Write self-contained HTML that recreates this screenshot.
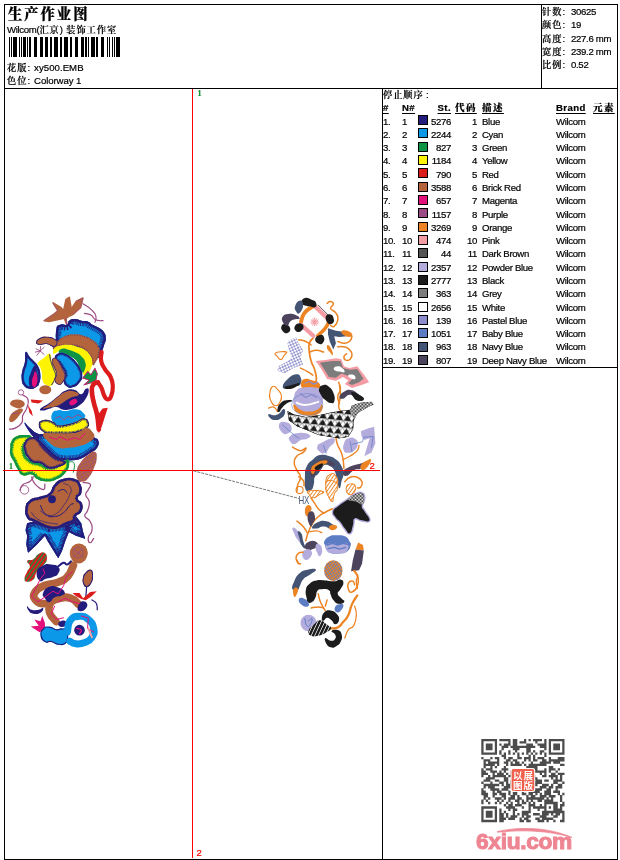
<!DOCTYPE html><html lang="zh"><head><meta charset="utf-8"><title>生产作业图</title><style>
html,body{margin:0;padding:0;background:#fff;}
body{-webkit-text-stroke-width:0.2px;width:620px;height:860px;position:relative;overflow:hidden;font-family:"Liberation Sans","Noto Serif CJK SC",sans-serif;font-size:9.6px;letter-spacing:-0.32px;color:#000;}
.t{position:absolute;white-space:nowrap;line-height:11px;height:11px;}
.c{font-family:"Liberation Sans","Noto Serif CJK SC","Noto Sans CJK SC",serif;font-size:9.2px;letter-spacing:1px;font-weight:600;}
.title{position:absolute;left:8px;top:4.7px;font-family:"Liberation Serif","Noto Serif CJK SC","Noto Sans CJK SC",serif;font-weight:900;font-size:14.4px;line-height:18px;letter-spacing:1.9px;white-space:nowrap;}
.h{font-weight:bold;text-decoration:underline;text-underline-offset:2px;text-decoration-thickness:1px;letter-spacing:0.4px;}
.h .c{font-size:9.5px;letter-spacing:1.4px;font-weight:900;}
.r{text-align:right;}
svg{position:absolute;left:0;top:0;}
.sw{position:absolute;width:8px;height:8px;border:1px solid #000;}
</style></head><body>
<svg width="620" height="860" viewBox="0 0 620 860" shape-rendering="crispEdges">
<g fill="#000">
<rect x="4" y="4" width="614" height="1"/>
<rect x="4" y="4" width="1" height="856"/>
<rect x="617" y="4" width="1" height="856"/>
<rect x="4" y="859" width="614" height="1"/>
<rect x="4" y="88" width="614" height="1"/>
<rect x="541" y="4" width="1" height="84"/>
<rect x="382" y="88" width="1" height="772"/>
<rect x="382" y="367" width="236" height="1"/>
<rect x="9" y="37" width="1" height="20"/>
<rect x="11" y="37" width="1" height="20"/>
<rect x="13" y="37" width="4" height="20"/>
<rect x="19" y="37" width="1" height="20"/>
<rect x="21" y="37" width="1" height="20"/>
<rect x="23" y="37" width="3" height="20"/>
<rect x="27" y="37" width="1" height="20"/>
<rect x="29" y="37" width="2" height="20"/>
<rect x="34" y="37" width="3" height="20"/>
<rect x="40" y="37" width="3" height="20"/>
<rect x="45" y="37" width="3" height="20"/>
<rect x="50" y="37" width="2" height="20"/>
<rect x="54" y="37" width="4" height="20"/>
<rect x="60" y="37" width="2" height="20"/>
<rect x="64" y="37" width="4" height="20"/>
<rect x="70" y="37" width="2" height="20"/>
<rect x="75" y="37" width="3" height="20"/>
<rect x="81" y="37" width="3" height="20"/>
<rect x="85" y="37" width="2" height="20"/>
<rect x="88" y="37" width="1" height="20"/>
<rect x="91" y="37" width="4" height="20"/>
<rect x="96" y="37" width="2" height="20"/>
<rect x="101" y="37" width="3" height="20"/>
<rect x="107" y="37" width="1" height="20"/>
<rect x="109" y="37" width="1" height="20"/>
<rect x="112" y="37" width="1" height="20"/>
<rect x="114" y="37" width="1" height="20"/>
<rect x="116" y="37" width="4" height="20"/>
</g>
</svg>
<svg width="620" height="860" viewBox="0 0 620 860">
<defs>
<pattern id="xh" width="22" height="22" patternUnits="userSpaceOnUse" patternTransform="rotate(20)"><rect width="22" height="22" fill="#fff"/><path d="M0,0L22,22M22,0L0,22" stroke="#8c8ccc" stroke-width="5"/></pattern>
<pattern id="tri" width="46" height="38" patternUnits="userSpaceOnUse" patternTransform="rotate(6)"><rect width="46" height="38" fill="#fff"/><path d="M2,38L23,6L44,38Z" fill="#1c1c1c"/><path d="M0,1L46,1M0,0L23,38M46,0L23,38" stroke="#1c1c1c" stroke-width="2.5" fill="none"/></pattern>
<pattern id="dots" width="8" height="8" patternUnits="userSpaceOnUse"><rect width="8" height="8" fill="#fff"/><rect width="4" height="4" fill="#1c1c1c"/><rect x="4" y="4" width="4" height="4" fill="#1c1c1c"/></pattern>
<pattern id="pine" width="20" height="20" patternUnits="userSpaceOnUse" patternTransform="rotate(15)"><rect width="20" height="20" fill="#ec8424"/><path d="M0,0L20,20M20,0L0,20" stroke="#5c7cc4" stroke-width="4"/></pattern>
<pattern id="cone" width="24" height="24" patternUnits="userSpaceOnUse" patternTransform="rotate(25)"><rect width="24" height="24" fill="#b4643c"/><path d="M0,0L24,24M24,0L0,24" stroke="#9c4c84" stroke-width="4"/></pattern>
<pattern id="rg" width="20" height="20" patternUnits="userSpaceOnUse" patternTransform="rotate(-55)"><rect width="20" height="20" fill="#dc1c1c"/><rect width="20" height="7" fill="#0c9444"/></pattern>
<pattern id="oh" width="16" height="16" patternUnits="userSpaceOnUse" patternTransform="rotate(-55)"><rect width="16" height="16" fill="#fff"/><rect width="16" height="5" fill="#ec8424"/></pattern>
<pattern id="bs" width="18" height="18" patternUnits="userSpaceOnUse" patternTransform="rotate(-65)"><rect width="18" height="18" fill="#1c1c1c"/><rect width="18" height="4" fill="#fff"/></pattern>
</defs>
<path d="M193.5,470.8 L299,498.5" stroke="#555" stroke-width="0.8" stroke-dasharray="3 1" fill="none"/>
<text x="298.5" y="503.7" font-family="'Liberation Sans',sans-serif" font-size="10.8" fill="#445474" textLength="10.5" lengthAdjust="spacingAndGlyphs">HX</text>
<g transform="translate(20,290) scale(0.16129)">
<path d="M390,85 C403.3,94.3 418.7,100.0 440,120 C461.3,140.0 463.3,138.7 470,160 C476.7,181.3 466.3,189.3 465,200" fill="none" stroke="#9c4c84" stroke-width="7" stroke-linecap="round" stroke-linejoin="round" />
<path d="M400,145 C410.7,147.7 421.3,144.3 440,155 C458.7,165.7 450.0,175.7 470,185 C490.0,194.3 503.0,188.7 515,190" fill="none" stroke="#9c4c84" stroke-width="7" stroke-linecap="round" stroke-linejoin="round" />
<path d="M150,190 L210,150 L235,130 L205,80 L255,110 L270,130 L285,60 L305,45 L315,100 L310,130 L350,70 L390,50 L375,110 L330,150 L300,165 L285,175 L290,215 L275,175 L230,185 L180,195Z" fill="#b4643c" />
<path d="M150,190 L210,150 L235,130 L205,80 L255,110 L270,130 L285,60 L305,45 L315,100 L310,130 L350,70 L390,50 L375,110 L330,150 L300,165 L285,175 L290,215 L275,175 L230,185 L180,195 L150,190" fill="none" stroke="#b4643c" stroke-width="9.8" stroke-linecap="round" stroke-linejoin="round" />
<path d="M150,190 L210,150 L235,130 L205,80" fill="none" stroke="#9c4c84" stroke-width="4.2" stroke-linecap="round" stroke-linejoin="round" />
<path d="M285,175 L290,215" fill="none" stroke="#9c4c84" stroke-width="5.6" stroke-linecap="round" stroke-linejoin="round" />
<path d="M350,70 L390,50 L375,110 L330,150" fill="none" stroke="#9c4c84" stroke-width="4.2" stroke-linecap="round" stroke-linejoin="round" />
<path d="M235,330 C215.0,304.7 221.0,275.7 225,245 C229.0,214.3 232.7,223.0 250,215 C267.3,207.0 275.3,221.7 290,215 C304.7,208.3 291.7,199.3 305,190 C318.3,180.7 320.0,180.0 340,180 C360.0,180.0 358.7,186.0 380,190 C401.3,194.0 401.3,188.3 420,195 C438.7,201.7 431.3,204.3 450,215 C468.7,225.7 471.3,223.0 490,235 C508.7,247.0 508.8,242.7 520,260 C531.2,277.3 531.5,278.7 532,300 C532.5,321.3 529.2,317.3 522,340 C514.8,362.7 516.2,363.7 505,385 C493.8,406.3 508.0,421.3 480,420 C452.0,418.7 448.0,401.3 400,380 C352.0,358.7 344.0,353.3 300,340 C256.0,326.7 255.0,355.3 235,330Z" fill="#0c98e8" />
<clipPath id="c1"><path d="M235,330 C215.0,304.7 221.0,275.7 225,245 C229.0,214.3 232.7,223.0 250,215 C267.3,207.0 275.3,221.7 290,215 C304.7,208.3 291.7,199.3 305,190 C318.3,180.7 320.0,180.0 340,180 C360.0,180.0 358.7,186.0 380,190 C401.3,194.0 401.3,188.3 420,195 C438.7,201.7 431.3,204.3 450,215 C468.7,225.7 471.3,223.0 490,235 C508.7,247.0 508.8,242.7 520,260 C531.2,277.3 531.5,278.7 532,300 C532.5,321.3 529.2,317.3 522,340 C514.8,362.7 516.2,363.7 505,385 C493.8,406.3 508.0,421.3 480,420 C452.0,418.7 448.0,401.3 400,380 C352.0,358.7 344.0,353.3 300,340 C256.0,326.7 255.0,355.3 235,330Z"/></clipPath>
<path d="M235,330 C215.0,304.7 221.0,275.7 225,245 C229.0,214.3 232.7,223.0 250,215 C267.3,207.0 275.3,221.7 290,215 C304.7,208.3 291.7,199.3 305,190 C318.3,180.7 320.0,180.0 340,180 C360.0,180.0 358.7,186.0 380,190 C401.3,194.0 401.3,188.3 420,195 C438.7,201.7 431.3,204.3 450,215 C468.7,225.7 471.3,223.0 490,235 C508.7,247.0 508.8,242.7 520,260 C531.2,277.3 531.5,278.7 532,300 C532.5,321.3 529.2,317.3 522,340 C514.8,362.7 516.2,363.7 505,385 C493.8,406.3 508.0,421.3 480,420 C452.0,418.7 448.0,401.3 400,380 C352.0,358.7 344.0,353.3 300,340 C256.0,326.7 255.0,355.3 235,330Z" fill="none" stroke="#241c7c" stroke-width="68" stroke-dasharray="4 4" clip-path="url(#c1)"/>
<path d="M235,330 C215.0,304.7 221.0,275.7 225,245 C229.0,214.3 232.7,223.0 250,215 C267.3,207.0 275.3,221.7 290,215 C304.7,208.3 291.7,199.3 305,190 C318.3,180.7 320.0,180.0 340,180 C360.0,180.0 358.7,186.0 380,190 C401.3,194.0 401.3,188.3 420,195 C438.7,201.7 431.3,204.3 450,215 C468.7,225.7 471.3,223.0 490,235 C508.7,247.0 508.8,242.7 520,260 C531.2,277.3 531.5,278.7 532,300 C532.5,321.3 529.2,317.3 522,340 C514.8,362.7 516.2,363.7 505,385 C493.8,406.3 508.0,421.3 480,420 C452.0,418.7 448.0,401.3 400,380 C352.0,358.7 344.0,353.3 300,340 C256.0,326.7 255.0,355.3 235,330Z" fill="none" stroke="#241c7c" stroke-width="30" stroke-linejoin="round" clip-path="url(#c1)"/>
<path d="M235,315 C252.3,300.3 244.7,300.7 270,290 C295.3,279.3 295.3,276.3 330,275 C364.7,273.7 368.0,275.7 400,285 C432.0,294.3 427.3,294.0 450,310 C472.7,326.0 473.8,322.3 485,345 C496.2,367.7 496.0,368.3 492,395 C488.0,421.7 481.2,426.3 470,445 C458.8,463.7 458.0,471.7 450,465 C442.0,458.3 453.3,445.3 440,420 C426.7,394.7 426.7,390.0 400,370 C373.3,350.0 372.0,351.7 340,345 C308.0,338.3 306.7,343.7 280,345 C253.3,346.3 257.3,342.8 240,350 C222.7,357.2 224.3,373.3 215,372 C205.7,370.7 199.7,360.2 205,345 C210.3,329.8 217.7,329.7 235,315Z" fill="#b4643c" />
<clipPath id="c2"><path d="M235,315 C252.3,300.3 244.7,300.7 270,290 C295.3,279.3 295.3,276.3 330,275 C364.7,273.7 368.0,275.7 400,285 C432.0,294.3 427.3,294.0 450,310 C472.7,326.0 473.8,322.3 485,345 C496.2,367.7 496.0,368.3 492,395 C488.0,421.7 481.2,426.3 470,445 C458.8,463.7 458.0,471.7 450,465 C442.0,458.3 453.3,445.3 440,420 C426.7,394.7 426.7,390.0 400,370 C373.3,350.0 372.0,351.7 340,345 C308.0,338.3 306.7,343.7 280,345 C253.3,346.3 257.3,342.8 240,350 C222.7,357.2 224.3,373.3 215,372 C205.7,370.7 199.7,360.2 205,345 C210.3,329.8 217.7,329.7 235,315Z"/></clipPath>
<path d="M235,315 C252.3,300.3 244.7,300.7 270,290 C295.3,279.3 295.3,276.3 330,275 C364.7,273.7 368.0,275.7 400,285 C432.0,294.3 427.3,294.0 450,310 C472.7,326.0 473.8,322.3 485,345 C496.2,367.7 496.0,368.3 492,395 C488.0,421.7 481.2,426.3 470,445 C458.8,463.7 458.0,471.7 450,465 C442.0,458.3 453.3,445.3 440,420 C426.7,394.7 426.7,390.0 400,370 C373.3,350.0 372.0,351.7 340,345 C308.0,338.3 306.7,343.7 280,345 C253.3,346.3 257.3,342.8 240,350 C222.7,357.2 224.3,373.3 215,372 C205.7,370.7 199.7,360.2 205,345 C210.3,329.8 217.7,329.7 235,315Z" fill="none" stroke="#241c7c" stroke-width="18" stroke-dasharray="2 9" clip-path="url(#c2)"/>
<path d="M100,322 C102.7,310.0 111.3,303.5 130,295 C148.7,286.5 148.7,288.7 170,290 C191.3,291.3 193.5,291.5 210,300 C226.5,308.5 230.7,308.1 232,322 C233.3,335.9 226.2,345.9 215,352 C203.8,358.1 204.7,349.5 190,345 C175.3,340.5 178.7,336.3 160,335 C141.3,333.7 136.0,343.5 120,340 C104.0,336.5 97.3,334.0 100,322Z" fill="#b4643c" />
<clipPath id="c3"><path d="M100,322 C102.7,310.0 111.3,303.5 130,295 C148.7,286.5 148.7,288.7 170,290 C191.3,291.3 193.5,291.5 210,300 C226.5,308.5 230.7,308.1 232,322 C233.3,335.9 226.2,345.9 215,352 C203.8,358.1 204.7,349.5 190,345 C175.3,340.5 178.7,336.3 160,335 C141.3,333.7 136.0,343.5 120,340 C104.0,336.5 97.3,334.0 100,322Z"/></clipPath>
<path d="M100,322 C102.7,310.0 111.3,303.5 130,295 C148.7,286.5 148.7,288.7 170,290 C191.3,291.3 193.5,291.5 210,300 C226.5,308.5 230.7,308.1 232,322 C233.3,335.9 226.2,345.9 215,352 C203.8,358.1 204.7,349.5 190,345 C175.3,340.5 178.7,336.3 160,335 C141.3,333.7 136.0,343.5 120,340 C104.0,336.5 97.3,334.0 100,322Z" fill="none" stroke="#241c7c" stroke-width="10" stroke-linejoin="round" clip-path="url(#c3)"/>
<path d="M205,392 C203.7,383.5 203.0,372.5 215,360 C227.0,347.5 227.3,350.3 250,345 C272.7,339.7 273.3,338.7 300,340 C326.7,341.3 323.3,342.0 350,350 C376.7,358.0 378.7,356.7 400,370 C421.3,383.3 417.5,381.3 430,400 C442.5,418.7 444.3,417.3 447,440 C449.7,462.7 449.9,462.3 440,485 C430.1,507.7 423.9,517.8 410,525 C396.1,532.2 390.7,526.7 388,512 C385.3,497.3 402.1,491.9 400,470 C397.9,448.1 396.0,448.7 380,430 C364.0,411.3 364.0,413.3 340,400 C316.0,386.7 314.0,386.7 290,380 C266.0,373.3 268.7,371.8 250,375 C231.3,378.2 232.0,387.5 220,392 C208.0,396.5 206.3,400.5 205,392Z" fill="#fcf404" />
<path d="M240,387 C237.3,379.0 244.0,369.5 260,365 C276.0,360.5 278.7,364.7 300,370 C321.3,375.3 318.7,374.3 340,385 C361.3,395.7 362.7,392.7 380,410 C397.3,427.3 399.1,428.1 405,450 C410.9,471.9 407.3,475.5 402,492 C396.7,508.5 394.1,515.2 385,512 C375.9,508.8 377.3,499.2 368,480 C358.7,460.8 365.5,458.7 350,440 C334.5,421.3 331.3,422.0 310,410 C288.7,398.0 288.7,401.1 270,395 C251.3,388.9 242.7,395.0 240,387Z" fill="#0c9444" />
<path d="M215,422 C215.0,406.5 222.7,399.2 240,392 C257.3,384.8 258.7,387.5 280,395 C301.3,402.5 301.3,405.3 320,420 C338.7,434.7 335.3,431.3 350,450 C364.7,468.7 365.4,468.1 375,490 C384.6,511.9 387.3,510.1 386,532 C384.7,553.9 384.9,553.3 370,572 C355.1,590.7 351.3,595.3 330,602 C308.7,608.7 306.0,608.2 290,597 C274.0,585.8 272.7,580.5 270,560 C267.3,539.5 282.7,541.3 280,520 C277.3,498.7 270.7,498.7 260,480 C249.3,461.3 252.0,465.5 240,450 C228.0,434.5 215.0,437.5 215,422Z" fill="#0c98e8" />
<clipPath id="c4"><path d="M215,422 C215.0,406.5 222.7,399.2 240,392 C257.3,384.8 258.7,387.5 280,395 C301.3,402.5 301.3,405.3 320,420 C338.7,434.7 335.3,431.3 350,450 C364.7,468.7 365.4,468.1 375,490 C384.6,511.9 387.3,510.1 386,532 C384.7,553.9 384.9,553.3 370,572 C355.1,590.7 351.3,595.3 330,602 C308.7,608.7 306.0,608.2 290,597 C274.0,585.8 272.7,580.5 270,560 C267.3,539.5 282.7,541.3 280,520 C277.3,498.7 270.7,498.7 260,480 C249.3,461.3 252.0,465.5 240,450 C228.0,434.5 215.0,437.5 215,422Z"/></clipPath>
<path d="M215,422 C215.0,406.5 222.7,399.2 240,392 C257.3,384.8 258.7,387.5 280,395 C301.3,402.5 301.3,405.3 320,420 C338.7,434.7 335.3,431.3 350,450 C364.7,468.7 365.4,468.1 375,490 C384.6,511.9 387.3,510.1 386,532 C384.7,553.9 384.9,553.3 370,572 C355.1,590.7 351.3,595.3 330,602 C308.7,608.7 306.0,608.2 290,597 C274.0,585.8 272.7,580.5 270,560 C267.3,539.5 282.7,541.3 280,520 C277.3,498.7 270.7,498.7 260,480 C249.3,461.3 252.0,465.5 240,450 C228.0,434.5 215.0,437.5 215,422Z" fill="none" stroke="#241c7c" stroke-width="32" stroke-dasharray="4 4" clip-path="url(#c4)"/>
<path d="M215,422 C215.0,406.5 222.7,399.2 240,392 C257.3,384.8 258.7,387.5 280,395 C301.3,402.5 301.3,405.3 320,420 C338.7,434.7 335.3,431.3 350,450 C364.7,468.7 365.4,468.1 375,490 C384.6,511.9 387.3,510.1 386,532 C384.7,553.9 384.9,553.3 370,572 C355.1,590.7 351.3,595.3 330,602 C308.7,608.7 306.0,608.2 290,597 C274.0,585.8 272.7,580.5 270,560 C267.3,539.5 282.7,541.3 280,520 C277.3,498.7 270.7,498.7 260,480 C249.3,461.3 252.0,465.5 240,450 C228.0,434.5 215.0,437.5 215,422Z" fill="none" stroke="#241c7c" stroke-width="20" stroke-linejoin="round" clip-path="url(#c4)"/>
<path d="M110,452 C118.0,438.7 130.0,435.2 150,420 C170.0,404.8 172.5,389.7 185,395 C197.5,400.3 189.8,417.3 197,440 C204.2,462.7 204.3,458.7 212,480 C219.7,501.3 224.9,498.7 226,520 C227.1,541.3 224.3,540.8 216,560 C207.7,579.2 209.9,584.8 195,592 C180.1,599.2 174.7,595.5 160,587 C145.3,578.5 146.7,580.5 140,560 C133.3,539.5 140.3,534.0 135,510 C129.7,486.0 126.7,485.5 120,470 C113.3,454.5 102.0,465.3 110,452Z" fill="#fcf404" />
<path d="M183,400 C185.4,412.0 185.9,422.3 192,445 C198.1,467.7 198.5,463.7 206,485 C213.5,506.3 218.4,505.0 220,525 C221.6,545.0 218.4,543.2 212,560 C205.6,576.8 200.3,580.5 196,588" fill="none" stroke="#241c7c" stroke-width="5.6" stroke-linecap="round" stroke-linejoin="round" stroke-dasharray="3 4"/>
<path d="M197,442 C198.6,426.0 204.2,417.9 217,420 C229.8,422.1 232.2,431.3 245,450 C257.8,468.7 255.4,468.7 265,490 C274.6,511.3 280.7,508.1 281,530 C281.3,551.9 276.9,556.8 266,572 C255.1,587.2 253.9,590.2 240,587 C226.1,583.8 217.7,577.9 214,560 C210.3,542.1 226.8,541.3 226,520 C225.2,498.7 218.7,500.8 211,480 C203.3,459.2 195.4,458.0 197,442Z" fill="#b4643c" />
<clipPath id="c5"><path d="M197,442 C198.6,426.0 204.2,417.9 217,420 C229.8,422.1 232.2,431.3 245,450 C257.8,468.7 255.4,468.7 265,490 C274.6,511.3 280.7,508.1 281,530 C281.3,551.9 276.9,556.8 266,572 C255.1,587.2 253.9,590.2 240,587 C226.1,583.8 217.7,577.9 214,560 C210.3,542.1 226.8,541.3 226,520 C225.2,498.7 218.7,500.8 211,480 C203.3,459.2 195.4,458.0 197,442Z"/></clipPath>
<path d="M197,442 C198.6,426.0 204.2,417.9 217,420 C229.8,422.1 232.2,431.3 245,450 C257.8,468.7 255.4,468.7 265,490 C274.6,511.3 280.7,508.1 281,530 C281.3,551.9 276.9,556.8 266,572 C255.1,587.2 253.9,590.2 240,587 C226.1,583.8 217.7,577.9 214,560 C210.3,542.1 226.8,541.3 226,520 C225.2,498.7 218.7,500.8 211,480 C203.3,459.2 195.4,458.0 197,442Z" fill="none" stroke="#241c7c" stroke-width="8" stroke-linejoin="round" clip-path="url(#c5)"/>
<path d="M35,385 C43.0,375.7 46.7,400.3 60,415 C73.3,429.7 71.7,425.3 85,440 C98.3,454.7 99.1,448.7 110,470 C120.9,491.3 123.1,493.3 126,520 C128.9,546.7 127.9,548.1 121,570 C114.1,591.9 116.3,590.8 100,602 C83.7,613.2 80.0,614.7 60,612 C40.0,609.3 38.3,608.5 25,592 C11.7,575.5 12.7,574.5 10,550 C7.3,525.5 9.7,526.7 15,500 C20.3,473.3 24.7,480.7 30,450 C35.3,419.3 27.0,394.3 35,385Z" fill="#0c98e8" />
<clipPath id="c6"><path d="M35,385 C43.0,375.7 46.7,400.3 60,415 C73.3,429.7 71.7,425.3 85,440 C98.3,454.7 99.1,448.7 110,470 C120.9,491.3 123.1,493.3 126,520 C128.9,546.7 127.9,548.1 121,570 C114.1,591.9 116.3,590.8 100,602 C83.7,613.2 80.0,614.7 60,612 C40.0,609.3 38.3,608.5 25,592 C11.7,575.5 12.7,574.5 10,550 C7.3,525.5 9.7,526.7 15,500 C20.3,473.3 24.7,480.7 30,450 C35.3,419.3 27.0,394.3 35,385Z"/></clipPath>
<path d="M35,385 C43.0,375.7 46.7,400.3 60,415 C73.3,429.7 71.7,425.3 85,440 C98.3,454.7 99.1,448.7 110,470 C120.9,491.3 123.1,493.3 126,520 C128.9,546.7 127.9,548.1 121,570 C114.1,591.9 116.3,590.8 100,602 C83.7,613.2 80.0,614.7 60,612 C40.0,609.3 38.3,608.5 25,592 C11.7,575.5 12.7,574.5 10,550 C7.3,525.5 9.7,526.7 15,500 C20.3,473.3 24.7,480.7 30,450 C35.3,419.3 27.0,394.3 35,385Z" fill="none" stroke="#241c7c" stroke-width="30" stroke-dasharray="4 4" clip-path="url(#c6)"/>
<path d="M35,385 C43.0,375.7 46.7,400.3 60,415 C73.3,429.7 71.7,425.3 85,440 C98.3,454.7 99.1,448.7 110,470 C120.9,491.3 123.1,493.3 126,520 C128.9,546.7 127.9,548.1 121,570 C114.1,591.9 116.3,590.8 100,602 C83.7,613.2 80.0,614.7 60,612 C40.0,609.3 38.3,608.5 25,592 C11.7,575.5 12.7,574.5 10,550 C7.3,525.5 9.7,526.7 15,500 C20.3,473.3 24.7,480.7 30,450 C35.3,419.3 27.0,394.3 35,385Z" fill="none" stroke="#241c7c" stroke-width="26" stroke-linejoin="round" clip-path="url(#c6)"/>
<path d="M90,470 C100.7,464.7 99.4,476.0 105,500 C110.6,524.0 113.7,534.1 111,560 C108.3,585.9 107.3,585.8 95,597 C82.7,608.2 75.7,611.9 65,602 C54.3,592.1 55.0,581.9 55,560 C55.0,538.1 55.7,544.0 65,520 C74.3,496.0 79.3,475.3 90,470Z" fill="#241c7c" />
<path d="M95,505 C101.1,509.5 106.7,521.8 108,545 C109.3,568.2 107.5,578.1 100,592 C92.5,605.9 86.7,605.5 80,597 C73.3,588.5 73.7,578.4 75,560 C76.3,541.6 79.7,542.7 85,528 C90.3,513.3 88.9,500.5 95,505Z" fill="#e4107c" />
<path d="M125,378 L100,365" fill="none" stroke="#9c4c84" stroke-width="5.6" stroke-linecap="round" stroke-linejoin="round" />
<path d="M125,378 L150,355" fill="none" stroke="#9c4c84" stroke-width="5.6" stroke-linecap="round" stroke-linejoin="round" />
<path d="M125,378 L105,405" fill="none" stroke="#9c4c84" stroke-width="5.6" stroke-linecap="round" stroke-linejoin="round" />
<path d="M125,378 L150,400" fill="none" stroke="#9c4c84" stroke-width="5.6" stroke-linecap="round" stroke-linejoin="round" />
<path d="M125,378 L128,350" fill="none" stroke="#9c4c84" stroke-width="5.6" stroke-linecap="round" stroke-linejoin="round" />
<path d="M125,378 L95,385" fill="none" stroke="#9c4c84" stroke-width="5.6" stroke-linecap="round" stroke-linejoin="round" />
<path d="M385,547 L420,502 L440,522 L465,480 L482,520 L472,562 L430,582 L390,592 L425,560Z" fill="#0c9444" />
<clipPath id="c7"><path d="M385,547 L420,502 L440,522 L465,480 L482,520 L472,562 L430,582 L390,592 L425,560Z"/></clipPath>
<path d="M385,547 L420,502 L440,522 L465,480 L482,520 L472,562 L430,582 L390,592 L425,560Z" fill="none" stroke="#e4107c" stroke-width="10" stroke-linejoin="round" clip-path="url(#c7)"/>
</g>
<g transform="translate(70,340) scale(0.11628)">
<path d="M272,105 C270.9,125.0 260.5,141.3 268,180 C275.5,218.7 278.1,212.7 300,250 C321.9,287.3 331.9,280.0 350,320 C368.1,360.0 366.7,357.3 368,400 C369.3,442.7 366.5,450.7 355,480 C343.5,509.3 341.0,510.0 325,510 C309.0,510.0 309.7,506.7 295,480 C280.3,453.3 284.7,440.7 270,410 C255.3,379.3 248.0,377.0 240,365" fill="none" stroke="#dc1c1c" stroke-width="36" stroke-linecap="round" stroke-linejoin="round" />
<path d="M240,365 C229.9,369.5 215.9,362.0 202,382 C188.1,402.0 187.2,397.9 188,440 C188.8,482.1 193.3,486.7 205,540 C216.7,593.3 220.5,578.7 232,640 C243.5,701.3 243.7,735.3 248,770" fill="none" stroke="#dc1c1c" stroke-width="40" stroke-linecap="round" stroke-linejoin="round" />
<path d="M248,805 L232,700 L250,630 L280,590 L325,583 L300,660 L275,740Z" fill="#dc1c1c" />
</g>
<g transform="translate(5,380) scale(0.17742)">
<ellipse cx="227" cy="55" rx="34" ry="26" fill="#b4643c" />
<ellipse cx="90" cy="70" rx="15" ry="15" fill="none" stroke="#9c4c84" stroke-width="5" />
<path d="M100,85 C108.0,91.7 124.1,90.0 130,110 C135.9,130.0 130.0,136.0 122,160 C114.0,184.0 107.2,178.7 100,200 C92.8,221.3 105.7,221.3 95,240 C84.3,258.7 78.7,260.1 60,270 C41.3,279.9 34.3,275.1 25,277" fill="none" stroke="#9c4c84" stroke-width="7" stroke-linecap="round" stroke-linejoin="round" />
<path d="M30,127 C35.3,115.8 48.7,109.2 70,110 C91.3,110.8 104.7,117.5 110,130 C115.3,142.5 106.0,151.1 90,157 C74.0,162.9 66.0,160.0 50,152 C34.0,144.0 24.7,138.2 30,127Z" fill="#b4643c" />
<path d="M25,212 C30.3,194.7 40.0,184.5 60,172 C80.0,159.5 94.7,157.5 100,165 C105.3,172.5 96.0,180.8 80,200 C64.0,219.2 54.7,233.8 40,237 C25.3,240.2 19.7,229.3 25,212Z" fill="#b4643c" />
<path d="M40,190 L75,185" fill="none" stroke="#9c4c84" stroke-width="5.6" stroke-linecap="round" stroke-linejoin="round" />
<path d="M145,110 L215,115 L190,132 L150,127Z" fill="#dc1c1c" />
<path d="M128,140 L150,175 L157,205 L138,185Z" fill="#dc1c1c" />
<path d="M200,162 C209.3,150.8 223.3,149.2 250,130 C276.7,110.8 276.0,108.7 300,90 C324.0,71.3 316.0,69.3 340,60 C364.0,50.7 366.0,49.7 390,55 C414.0,60.3 412.7,81.3 430,80 C447.3,78.7 443.8,55.3 455,50 C466.2,44.7 472.8,44.0 472,60 C471.2,76.0 465.9,88.1 452,110 C438.1,131.9 439.2,128.1 420,142 C400.8,155.9 404.0,155.3 380,162 C356.0,168.7 354.0,169.7 330,167 C306.0,164.3 311.3,153.3 290,152 C268.7,150.7 270.0,156.7 250,162 C230.0,167.3 228.3,172.0 215,172 C201.7,172.0 190.7,173.2 200,162Z" fill="#241c7c" />
<path d="M215,160 C216.3,153.9 232.3,149.3 255,132 C277.7,114.7 277.3,112.1 300,95 C322.7,77.9 317.3,76.3 340,68 C362.7,59.7 365.0,59.5 385,64 C405.0,68.5 419.0,75.4 415,85 C411.0,94.6 392.7,89.3 370,100 C347.3,110.7 350.0,113.0 330,125 C310.0,137.0 316.3,137.0 295,145 C273.7,153.0 271.3,151.0 250,155 C228.7,159.0 213.7,166.1 215,160Z" fill="#b4643c" />
<ellipse cx="385" cy="125" rx="24" ry="15" fill="#e4107c" transform="rotate(-30 385 125)"/>
<path d="M110,240 C112.7,237.3 121.3,254.0 140,270 C158.7,286.0 160.0,290.7 180,300 C200.0,309.3 183.0,305.0 215,305 C247.0,305.0 245.3,304.0 300,300 C354.7,296.0 374.7,296.7 420,290 C465.3,283.3 448.7,267.0 470,275 C491.3,283.0 485.3,302.7 500,320 C514.7,337.3 519.7,324.0 525,340 C530.3,356.0 532.0,360.8 520,380 C508.0,399.2 504.0,395.5 480,412 C456.0,428.5 456.7,431.3 430,442 C403.3,452.7 406.7,449.3 380,452 C353.3,454.7 354.0,454.7 330,452 C306.0,449.3 311.3,453.2 290,442 C268.7,430.8 271.3,429.2 250,410 C228.7,390.8 231.3,391.3 210,370 C188.7,348.7 191.3,354.0 170,330 C148.7,306.0 146.0,304.0 130,280 C114.0,256.0 107.3,242.7 110,240Z" fill="#0c98e8" />
<clipPath id="c8"><path d="M110,240 C112.7,237.3 121.3,254.0 140,270 C158.7,286.0 160.0,290.7 180,300 C200.0,309.3 183.0,305.0 215,305 C247.0,305.0 245.3,304.0 300,300 C354.7,296.0 374.7,296.7 420,290 C465.3,283.3 448.7,267.0 470,275 C491.3,283.0 485.3,302.7 500,320 C514.7,337.3 519.7,324.0 525,340 C530.3,356.0 532.0,360.8 520,380 C508.0,399.2 504.0,395.5 480,412 C456.0,428.5 456.7,431.3 430,442 C403.3,452.7 406.7,449.3 380,452 C353.3,454.7 354.0,454.7 330,452 C306.0,449.3 311.3,453.2 290,442 C268.7,430.8 271.3,429.2 250,410 C228.7,390.8 231.3,391.3 210,370 C188.7,348.7 191.3,354.0 170,330 C148.7,306.0 146.0,304.0 130,280 C114.0,256.0 107.3,242.7 110,240Z"/></clipPath>
<path d="M110,240 C112.7,237.3 121.3,254.0 140,270 C158.7,286.0 160.0,290.7 180,300 C200.0,309.3 183.0,305.0 215,305 C247.0,305.0 245.3,304.0 300,300 C354.7,296.0 374.7,296.7 420,290 C465.3,283.3 448.7,267.0 470,275 C491.3,283.0 485.3,302.7 500,320 C514.7,337.3 519.7,324.0 525,340 C530.3,356.0 532.0,360.8 520,380 C508.0,399.2 504.0,395.5 480,412 C456.0,428.5 456.7,431.3 430,442 C403.3,452.7 406.7,449.3 380,452 C353.3,454.7 354.0,454.7 330,452 C306.0,449.3 311.3,453.2 290,442 C268.7,430.8 271.3,429.2 250,410 C228.7,390.8 231.3,391.3 210,370 C188.7,348.7 191.3,354.0 170,330 C148.7,306.0 146.0,304.0 130,280 C114.0,256.0 107.3,242.7 110,240Z" fill="none" stroke="#241c7c" stroke-width="56" stroke-dasharray="4 4" clip-path="url(#c8)"/>
<path d="M110,240 C112.7,237.3 121.3,254.0 140,270 C158.7,286.0 160.0,290.7 180,300 C200.0,309.3 183.0,305.0 215,305 C247.0,305.0 245.3,304.0 300,300 C354.7,296.0 374.7,296.7 420,290 C465.3,283.3 448.7,267.0 470,275 C491.3,283.0 485.3,302.7 500,320 C514.7,337.3 519.7,324.0 525,340 C530.3,356.0 532.0,360.8 520,380 C508.0,399.2 504.0,395.5 480,412 C456.0,428.5 456.7,431.3 430,442 C403.3,452.7 406.7,449.3 380,452 C353.3,454.7 354.0,454.7 330,452 C306.0,449.3 311.3,453.2 290,442 C268.7,430.8 271.3,429.2 250,410 C228.7,390.8 231.3,391.3 210,370 C188.7,348.7 191.3,354.0 170,330 C148.7,306.0 146.0,304.0 130,280 C114.0,256.0 107.3,242.7 110,240Z" fill="none" stroke="#241c7c" stroke-width="26" stroke-linejoin="round" clip-path="url(#c8)"/>
<path d="M265,190 C273.0,172.1 280.0,174.0 300,170 C320.0,166.0 313.3,176.3 340,175 C366.7,173.7 373.3,162.3 400,165 C426.7,167.7 427.5,171.7 440,185 C452.5,198.3 457.7,201.1 447,215 C436.3,228.9 425.9,227.1 400,237 C374.1,246.9 376.7,246.7 350,252 C323.3,257.3 321.3,261.0 300,257 C278.7,253.0 279.3,254.9 270,237 C260.7,219.1 257.0,207.9 265,190Z" fill="#0c98e8" />
<path d="M285,215 L310,205 L330,225 L355,205 L380,215 L410,195 L430,205" fill="none" stroke="#9c4c84" stroke-width="5.6" stroke-linecap="round" stroke-linejoin="round" />
<path d="M190,250 C191.3,232.1 198.7,229.0 220,225 C241.3,221.0 248.7,227.0 270,235 C291.3,243.0 278.7,251.0 300,255 C321.3,259.0 323.3,255.3 350,250 C376.7,244.7 374.7,244.3 400,235 C425.3,225.7 425.8,213.7 445,215 C464.2,216.3 467.5,224.8 472,240 C476.5,255.2 475.9,258.1 462,272 C448.1,285.9 444.5,284.0 420,292 C395.5,300.0 399.3,299.3 370,302 C340.7,304.7 339.3,302.0 310,302 C280.7,302.0 285.3,304.7 260,302 C234.7,299.3 233.7,305.9 215,292 C196.3,278.1 188.7,267.9 190,250Z" fill="#fcf404" />
<clipPath id="c9"><path d="M190,250 C191.3,232.1 198.7,229.0 220,225 C241.3,221.0 248.7,227.0 270,235 C291.3,243.0 278.7,251.0 300,255 C321.3,259.0 323.3,255.3 350,250 C376.7,244.7 374.7,244.3 400,235 C425.3,225.7 425.8,213.7 445,215 C464.2,216.3 467.5,224.8 472,240 C476.5,255.2 475.9,258.1 462,272 C448.1,285.9 444.5,284.0 420,292 C395.5,300.0 399.3,299.3 370,302 C340.7,304.7 339.3,302.0 310,302 C280.7,302.0 285.3,304.7 260,302 C234.7,299.3 233.7,305.9 215,292 C196.3,278.1 188.7,267.9 190,250Z"/></clipPath>
<path d="M190,250 C191.3,232.1 198.7,229.0 220,225 C241.3,221.0 248.7,227.0 270,235 C291.3,243.0 278.7,251.0 300,255 C321.3,259.0 323.3,255.3 350,250 C376.7,244.7 374.7,244.3 400,235 C425.3,225.7 425.8,213.7 445,215 C464.2,216.3 467.5,224.8 472,240 C476.5,255.2 475.9,258.1 462,272 C448.1,285.9 444.5,284.0 420,292 C395.5,300.0 399.3,299.3 370,302 C340.7,304.7 339.3,302.0 310,302 C280.7,302.0 285.3,304.7 260,302 C234.7,299.3 233.7,305.9 215,292 C196.3,278.1 188.7,267.9 190,250Z" fill="none" stroke="#241c7c" stroke-width="26" stroke-dasharray="4 4" clip-path="url(#c9)"/>
<path d="M190,250 C191.3,232.1 198.7,229.0 220,225 C241.3,221.0 248.7,227.0 270,235 C291.3,243.0 278.7,251.0 300,255 C321.3,259.0 323.3,255.3 350,250 C376.7,244.7 374.7,244.3 400,235 C425.3,225.7 425.8,213.7 445,215 C464.2,216.3 467.5,224.8 472,240 C476.5,255.2 475.9,258.1 462,272 C448.1,285.9 444.5,284.0 420,292 C395.5,300.0 399.3,299.3 370,302 C340.7,304.7 339.3,302.0 310,302 C280.7,302.0 285.3,304.7 260,302 C234.7,299.3 233.7,305.9 215,292 C196.3,278.1 188.7,267.9 190,250Z" fill="none" stroke="#241c7c" stroke-width="12" stroke-linejoin="round" clip-path="url(#c9)"/>
<path d="M215,307 C217.7,293.1 218.7,301.9 260,300 C301.3,298.1 327.3,302.7 370,300 C412.7,297.3 396.0,298.0 420,290 C444.0,282.0 441.3,270.0 460,270 C478.7,270.0 478.8,276.1 490,290 C501.2,303.9 507.3,305.5 502,322 C496.7,338.5 491.9,338.7 470,352 C448.1,365.3 449.3,364.0 420,372 C390.7,380.0 392.0,379.3 360,382 C328.0,384.7 329.3,390.0 300,382 C270.7,374.0 272.7,372.0 250,352 C227.3,332.0 212.3,320.9 215,307Z" fill="#b4643c" />
<path d="M250,322 L290,335 L310,320 L350,340 L390,325 L420,335 L450,300" fill="none" stroke="#e4107c" stroke-width="5.6" stroke-linecap="round" stroke-linejoin="round" />
<path d="M35,350 C43.0,334.0 40.0,330.7 60,320 C80.0,309.3 86.0,309.5 110,310 C134.0,310.5 147.3,308.7 150,322 C152.7,335.3 130.7,339.2 120,360 C109.3,380.8 104.7,376.0 110,400 C115.3,424.0 116.0,431.3 140,450 C164.0,468.7 168.0,459.3 200,470 C232.0,480.7 222.7,494.8 260,490 C297.3,485.2 312.8,457.3 340,452 C367.2,446.7 361.5,451.9 362,470 C362.5,488.1 361.2,496.0 342,520 C322.8,544.0 319.9,546.1 290,560 C260.1,573.9 259.3,572.8 230,572 C200.7,571.2 201.3,567.7 180,557 C158.7,546.3 171.3,537.3 150,532 C128.7,526.7 121.3,545.5 100,537 C78.7,528.5 83.3,520.5 70,500 C56.7,479.5 60.7,481.3 50,460 C39.3,438.7 35.3,441.3 30,420 C24.7,398.7 28.7,398.7 30,380 C31.3,361.3 27.0,366.0 35,350Z" fill="#fcf404" />
<clipPath id="c10"><path d="M35,350 C43.0,334.0 40.0,330.7 60,320 C80.0,309.3 86.0,309.5 110,310 C134.0,310.5 147.3,308.7 150,322 C152.7,335.3 130.7,339.2 120,360 C109.3,380.8 104.7,376.0 110,400 C115.3,424.0 116.0,431.3 140,450 C164.0,468.7 168.0,459.3 200,470 C232.0,480.7 222.7,494.8 260,490 C297.3,485.2 312.8,457.3 340,452 C367.2,446.7 361.5,451.9 362,470 C362.5,488.1 361.2,496.0 342,520 C322.8,544.0 319.9,546.1 290,560 C260.1,573.9 259.3,572.8 230,572 C200.7,571.2 201.3,567.7 180,557 C158.7,546.3 171.3,537.3 150,532 C128.7,526.7 121.3,545.5 100,537 C78.7,528.5 83.3,520.5 70,500 C56.7,479.5 60.7,481.3 50,460 C39.3,438.7 35.3,441.3 30,420 C24.7,398.7 28.7,398.7 30,380 C31.3,361.3 27.0,366.0 35,350Z"/></clipPath>
<path d="M35,350 C43.0,334.0 40.0,330.7 60,320 C80.0,309.3 86.0,309.5 110,310 C134.0,310.5 147.3,308.7 150,322 C152.7,335.3 130.7,339.2 120,360 C109.3,380.8 104.7,376.0 110,400 C115.3,424.0 116.0,431.3 140,450 C164.0,468.7 168.0,459.3 200,470 C232.0,480.7 222.7,494.8 260,490 C297.3,485.2 312.8,457.3 340,452 C367.2,446.7 361.5,451.9 362,470 C362.5,488.1 361.2,496.0 342,520 C322.8,544.0 319.9,546.1 290,560 C260.1,573.9 259.3,572.8 230,572 C200.7,571.2 201.3,567.7 180,557 C158.7,546.3 171.3,537.3 150,532 C128.7,526.7 121.3,545.5 100,537 C78.7,528.5 83.3,520.5 70,500 C56.7,479.5 60.7,481.3 50,460 C39.3,438.7 35.3,441.3 30,420 C24.7,398.7 28.7,398.7 30,380 C31.3,361.3 27.0,366.0 35,350Z" fill="none" stroke="#0c9444" stroke-width="38" stroke-dasharray="4 4" clip-path="url(#c10)"/>
<path d="M35,350 C43.0,334.0 40.0,330.7 60,320 C80.0,309.3 86.0,309.5 110,310 C134.0,310.5 147.3,308.7 150,322 C152.7,335.3 130.7,339.2 120,360 C109.3,380.8 104.7,376.0 110,400 C115.3,424.0 116.0,431.3 140,450 C164.0,468.7 168.0,459.3 200,470 C232.0,480.7 222.7,494.8 260,490 C297.3,485.2 312.8,457.3 340,452 C367.2,446.7 361.5,451.9 362,470 C362.5,488.1 361.2,496.0 342,520 C322.8,544.0 319.9,546.1 290,560 C260.1,573.9 259.3,572.8 230,572 C200.7,571.2 201.3,567.7 180,557 C158.7,546.3 171.3,537.3 150,532 C128.7,526.7 121.3,545.5 100,537 C78.7,528.5 83.3,520.5 70,500 C56.7,479.5 60.7,481.3 50,460 C39.3,438.7 35.3,441.3 30,420 C24.7,398.7 28.7,398.7 30,380 C31.3,361.3 27.0,366.0 35,350Z" fill="none" stroke="#0c9444" stroke-width="26" stroke-linejoin="round" clip-path="url(#c10)"/>
<path d="M110,352 C120.7,331.2 128.7,325.2 150,322 C171.3,318.8 174.0,327.2 190,340 C206.0,352.8 194.0,351.3 210,370 C226.0,388.7 228.7,391.3 250,410 C271.3,428.7 268.7,428.8 290,440 C311.3,451.2 316.7,443.5 330,452 C343.3,460.5 348.0,461.9 340,472 C332.0,482.1 321.3,482.5 300,490 C278.7,497.5 278.7,500.0 260,500 C241.3,500.0 246.0,498.0 230,490 C214.0,482.0 218.7,476.7 200,470 C181.3,463.3 178.7,473.0 160,465 C141.3,457.0 143.3,457.3 130,440 C116.7,422.7 115.3,423.5 110,400 C104.7,376.5 99.3,372.8 110,352Z" fill="#b4643c" />
<clipPath id="c11"><path d="M110,352 C120.7,331.2 128.7,325.2 150,322 C171.3,318.8 174.0,327.2 190,340 C206.0,352.8 194.0,351.3 210,370 C226.0,388.7 228.7,391.3 250,410 C271.3,428.7 268.7,428.8 290,440 C311.3,451.2 316.7,443.5 330,452 C343.3,460.5 348.0,461.9 340,472 C332.0,482.1 321.3,482.5 300,490 C278.7,497.5 278.7,500.0 260,500 C241.3,500.0 246.0,498.0 230,490 C214.0,482.0 218.7,476.7 200,470 C181.3,463.3 178.7,473.0 160,465 C141.3,457.0 143.3,457.3 130,440 C116.7,422.7 115.3,423.5 110,400 C104.7,376.5 99.3,372.8 110,352Z"/></clipPath>
<path d="M110,352 C120.7,331.2 128.7,325.2 150,322 C171.3,318.8 174.0,327.2 190,340 C206.0,352.8 194.0,351.3 210,370 C226.0,388.7 228.7,391.3 250,410 C271.3,428.7 268.7,428.8 290,440 C311.3,451.2 316.7,443.5 330,452 C343.3,460.5 348.0,461.9 340,472 C332.0,482.1 321.3,482.5 300,490 C278.7,497.5 278.7,500.0 260,500 C241.3,500.0 246.0,498.0 230,490 C214.0,482.0 218.7,476.7 200,470 C181.3,463.3 178.7,473.0 160,465 C141.3,457.0 143.3,457.3 130,440 C116.7,422.7 115.3,423.5 110,400 C104.7,376.5 99.3,372.8 110,352Z" fill="none" stroke="#241c7c" stroke-width="28" stroke-dasharray="4 4" clip-path="url(#c11)"/>
<path d="M110,352 C120.7,331.2 128.7,325.2 150,322 C171.3,318.8 174.0,327.2 190,340 C206.0,352.8 194.0,351.3 210,370 C226.0,388.7 228.7,391.3 250,410 C271.3,428.7 268.7,428.8 290,440 C311.3,451.2 316.7,443.5 330,452 C343.3,460.5 348.0,461.9 340,472 C332.0,482.1 321.3,482.5 300,490 C278.7,497.5 278.7,500.0 260,500 C241.3,500.0 246.0,498.0 230,490 C214.0,482.0 218.7,476.7 200,470 C181.3,463.3 178.7,473.0 160,465 C141.3,457.0 143.3,457.3 130,440 C116.7,422.7 115.3,423.5 110,400 C104.7,376.5 99.3,372.8 110,352Z" fill="none" stroke="#241c7c" stroke-width="16" stroke-linejoin="round" clip-path="url(#c11)"/>
<path d="M410,562 C400.7,545.5 399.7,537.2 405,510 C410.3,482.8 412.7,484.0 430,460 C447.3,436.0 450.0,434.7 470,420 C490.0,405.3 492.5,399.7 505,405 C517.5,410.3 518.3,414.7 517,440 C515.7,465.3 512.5,470.1 500,500 C487.5,529.9 486.0,532.8 470,552 C454.0,571.2 456.0,569.3 440,572 C424.0,574.7 419.3,578.5 410,562Z" fill="url(#cone)" />
<path d="M360,462 C368.0,464.1 383.3,454.5 390,470 C396.7,485.5 386.3,506.7 385,520" fill="none" stroke="#0c9444" stroke-width="5.6" stroke-linecap="round" stroke-linejoin="round" />
<path d="M85,620 C89.0,612.0 85.3,602.8 100,590 C114.7,577.2 124.0,584.0 140,572 C156.0,560.0 154.7,552.2 160,545" fill="none" stroke="#9c4c84" stroke-width="7" stroke-linecap="round" stroke-linejoin="round" />
</g>
<g transform="translate(5,470) scale(0.17742)">
<ellipse cx="110" cy="112" rx="24" ry="24" fill="none" stroke="#9c4c84" stroke-width="5" />
<path d="M150,40 C155.3,50.7 152.7,61.3 170,80 C187.3,98.7 200.3,110.0 215,110 C229.7,110.0 222.3,88.0 225,80" fill="none" stroke="#9c4c84" stroke-width="7" stroke-linecap="round" stroke-linejoin="round" />
<path d="M440,70 C450.7,72.7 472.0,69.3 480,80 C488.0,90.7 476.7,94.0 470,110 C463.3,126.0 453.7,121.3 455,140 C456.3,158.7 472.3,156.0 475,180 C477.7,204.0 471.7,208.7 465,230 C458.3,251.3 446.0,244.0 450,260 C454.0,276.0 469.3,268.7 480,290 C490.7,311.3 492.7,316.0 490,340 C487.3,364.0 472.7,361.3 470,380 C467.3,398.7 472.0,408.7 480,410 C488.0,411.3 494.7,391.7 500,385" fill="none" stroke="#9c4c84" stroke-width="7" stroke-linecap="round" stroke-linejoin="round" />
<path d="M125,300 L160,290 L250,320 L340,310 L390,290 L400,260 L430,300 L440,350 L452,387 L400,370 L360,350 L340,400 L320,460 L300,497 L270,450 L240,400 L225,370 L180,420 L130,467 L120,420 L125,370 L115,340Z" fill="#0c98e8" />
<clipPath id="c12"><path d="M125,300 L160,290 L250,320 L340,310 L390,290 L400,260 L430,300 L440,350 L452,387 L400,370 L360,350 L340,400 L320,460 L300,497 L270,450 L240,400 L225,370 L180,420 L130,467 L120,420 L125,370 L115,340Z"/></clipPath>
<path d="M125,300 L160,290 L250,320 L340,310 L390,290 L400,260 L430,300 L440,350 L452,387 L400,370 L360,350 L340,400 L320,460 L300,497 L270,450 L240,400 L225,370 L180,420 L130,467 L120,420 L125,370 L115,340Z" fill="none" stroke="#241c7c" stroke-width="60" stroke-dasharray="4 4" clip-path="url(#c12)"/>
<path d="M125,300 L160,290 L250,320 L340,310 L390,290 L400,260 L430,300 L440,350 L452,387 L400,370 L360,350 L340,400 L320,460 L300,497 L270,450 L240,400 L225,370 L180,420 L130,467 L120,420 L125,370 L115,340Z" fill="none" stroke="#241c7c" stroke-width="24" stroke-linejoin="round" clip-path="url(#c12)"/>
<path d="M115,215 C119.0,188.3 117.3,187.3 140,170 C162.7,152.7 170.7,160.7 200,150 C229.3,139.3 228.7,148.7 250,130 C271.3,111.3 258.7,101.3 280,80 C301.3,58.7 300.7,58.0 330,50 C359.3,42.0 364.7,42.0 390,50 C415.3,58.0 414.3,58.7 425,80 C435.7,101.3 434.0,108.7 430,130 C426.0,151.3 408.7,144.0 410,160 C411.3,176.0 429.7,170.0 435,190 C440.3,210.0 439.3,216.3 430,235 C420.7,253.7 410.7,245.3 400,260 C389.3,274.7 406.0,276.7 390,290 C374.0,303.3 364.0,299.3 340,310 C316.0,320.7 324.0,324.7 300,330 C276.0,335.3 276.7,335.3 250,330 C223.3,324.7 224.0,320.7 200,310 C176.0,299.3 180.0,300.7 160,290 C140.0,279.3 137.0,290.0 125,270 C113.0,250.0 111.0,241.7 115,215Z" fill="#b4643c" />
<clipPath id="c13"><path d="M115,215 C119.0,188.3 117.3,187.3 140,170 C162.7,152.7 170.7,160.7 200,150 C229.3,139.3 228.7,148.7 250,130 C271.3,111.3 258.7,101.3 280,80 C301.3,58.7 300.7,58.0 330,50 C359.3,42.0 364.7,42.0 390,50 C415.3,58.0 414.3,58.7 425,80 C435.7,101.3 434.0,108.7 430,130 C426.0,151.3 408.7,144.0 410,160 C411.3,176.0 429.7,170.0 435,190 C440.3,210.0 439.3,216.3 430,235 C420.7,253.7 410.7,245.3 400,260 C389.3,274.7 406.0,276.7 390,290 C374.0,303.3 364.0,299.3 340,310 C316.0,320.7 324.0,324.7 300,330 C276.0,335.3 276.7,335.3 250,330 C223.3,324.7 224.0,320.7 200,310 C176.0,299.3 180.0,300.7 160,290 C140.0,279.3 137.0,290.0 125,270 C113.0,250.0 111.0,241.7 115,215Z"/></clipPath>
<path d="M115,215 C119.0,188.3 117.3,187.3 140,170 C162.7,152.7 170.7,160.7 200,150 C229.3,139.3 228.7,148.7 250,130 C271.3,111.3 258.7,101.3 280,80 C301.3,58.7 300.7,58.0 330,50 C359.3,42.0 364.7,42.0 390,50 C415.3,58.0 414.3,58.7 425,80 C435.7,101.3 434.0,108.7 430,130 C426.0,151.3 408.7,144.0 410,160 C411.3,176.0 429.7,170.0 435,190 C440.3,210.0 439.3,216.3 430,235 C420.7,253.7 410.7,245.3 400,260 C389.3,274.7 406.0,276.7 390,290 C374.0,303.3 364.0,299.3 340,310 C316.0,320.7 324.0,324.7 300,330 C276.0,335.3 276.7,335.3 250,330 C223.3,324.7 224.0,320.7 200,310 C176.0,299.3 180.0,300.7 160,290 C140.0,279.3 137.0,290.0 125,270 C113.0,250.0 111.0,241.7 115,215Z" fill="none" stroke="#241c7c" stroke-width="32" stroke-dasharray="4 4" clip-path="url(#c13)"/>
<path d="M115,215 C119.0,188.3 117.3,187.3 140,170 C162.7,152.7 170.7,160.7 200,150 C229.3,139.3 228.7,148.7 250,130 C271.3,111.3 258.7,101.3 280,80 C301.3,58.7 300.7,58.0 330,50 C359.3,42.0 364.7,42.0 390,50 C415.3,58.0 414.3,58.7 425,80 C435.7,101.3 434.0,108.7 430,130 C426.0,151.3 408.7,144.0 410,160 C411.3,176.0 429.7,170.0 435,190 C440.3,210.0 439.3,216.3 430,235 C420.7,253.7 410.7,245.3 400,260 C389.3,274.7 406.0,276.7 390,290 C374.0,303.3 364.0,299.3 340,310 C316.0,320.7 324.0,324.7 300,330 C276.0,335.3 276.7,335.3 250,330 C223.3,324.7 224.0,320.7 200,310 C176.0,299.3 180.0,300.7 160,290 C140.0,279.3 137.0,290.0 125,270 C113.0,250.0 111.0,241.7 115,215Z" fill="none" stroke="#241c7c" stroke-width="26" stroke-linejoin="round" clip-path="url(#c13)"/>
<path d="M330,75 C340.7,81.7 362.0,80.0 370,100 C378.0,120.0 370.7,123.3 360,150 C349.3,176.7 348.7,174.7 330,200 C311.3,225.3 314.0,230.3 290,245 C266.0,259.7 264.0,259.0 240,255 C216.0,251.0 210.7,236.7 200,230" fill="none" stroke="#241c7c" stroke-width="4.2" stroke-linecap="round" stroke-linejoin="round" stroke-dasharray="6 5"/>
<path d="M150,240 C156.7,248.0 157.7,256.7 175,270 C192.3,283.3 192.3,282.0 215,290 C237.7,298.0 237.3,296.0 260,300 C282.7,304.0 289.3,303.7 300,305" fill="none" stroke="#241c7c" stroke-width="4.2" stroke-linecap="round" stroke-linejoin="round" stroke-dasharray="5 4"/>
<path d="M300,120 C308.0,117.3 316.7,107.3 330,110 C343.3,112.7 344.7,124.7 350,130" fill="none" stroke="#241c7c" stroke-width="5.6" stroke-linecap="round" stroke-linejoin="round" />
<path d="M200,200 C208.0,213.3 208.7,233.5 230,250 C251.3,266.5 253.3,264.7 280,262 C306.7,259.3 307.3,256.5 330,240 C352.7,223.5 350.3,213.3 365,200 C379.7,186.7 379.7,192.7 385,190" fill="none" stroke="#241c7c" stroke-width="5.6" stroke-linecap="round" stroke-linejoin="round" stroke-dasharray="8 3"/>
<ellipse cx="265" cy="165" rx="22" ry="22" fill="#241c7c" />
<ellipse cx="420" cy="467" rx="46" ry="52" fill="#b4643c" />
<ellipse cx="415" cy="462" rx="28" ry="30" fill="none" stroke="#9c4c84" stroke-width="4" />
<path d="M390,440 L445,490" fill="none" stroke="#9c4c84" stroke-width="5.6" stroke-linecap="round" stroke-linejoin="round" />
<path d="M445,440 L390,490" fill="none" stroke="#9c4c84" stroke-width="5.6" stroke-linecap="round" stroke-linejoin="round" />
<path d="M400,515 C394.7,527.0 388.0,537.3 380,560 C372.0,582.7 372.7,589.3 370,600" fill="none" stroke="#b4643c" stroke-width="8.4" stroke-linecap="round" stroke-linejoin="round" />
</g>
<g transform="translate(5,545) scale(0.17742)">
<path d="M110,190 C110.0,174.8 117.0,168.7 125,150 C133.0,131.3 140.0,136.0 140,120 C140.0,104.0 119.7,100.7 125,90 C130.3,79.3 142.7,90.7 160,80 C177.3,69.3 172.7,59.3 190,50 C207.3,40.7 212.7,37.0 225,45 C237.3,53.0 237.3,62.7 236,80 C234.7,97.3 229.6,96.7 220,110 C210.4,123.3 212.0,116.7 200,130 C188.0,143.3 185.7,142.7 175,160 C164.3,177.3 173.3,182.5 160,195 C146.7,207.5 138.3,208.3 125,207 C111.7,205.7 110.0,205.2 110,190Z" fill="url(#rg)" />
<path d="M385,115 C377.0,131.0 377.7,149.7 355,175 C332.3,200.3 334.7,195.9 300,210 C265.3,224.1 259.1,214.1 225,228 C190.9,241.9 186.1,240.1 172,262 C157.9,283.9 156.5,291.9 172,310 C187.5,328.1 195.9,332.1 230,330 C264.1,327.9 262.7,310.0 300,302 C337.3,294.0 339.3,291.2 370,300 C400.7,308.8 403.0,325.7 415,335" fill="none" stroke="#b4643c" stroke-width="44" stroke-linecap="round" stroke-linejoin="round" />
<path d="M255,330 C253.7,343.3 241.2,352.8 250,380 C258.8,407.2 277.9,418.1 288,432" fill="none" stroke="#b4643c" stroke-width="42" stroke-linecap="round" stroke-linejoin="round" />
<path d="M180,150 C185.3,126.8 193.7,125.7 215,115 C236.3,104.3 236.8,107.3 260,110 C283.2,112.7 291.3,111.7 302,125 C312.7,138.3 308.5,145.3 300,160 C291.5,174.7 288.7,172.0 270,180 C251.3,188.0 250.0,184.1 230,190 C210.0,195.9 208.3,212.7 195,202 C181.7,191.3 174.7,173.2 180,150Z" fill="#241c7c" />
<path d="M215,270 C221.7,252.7 227.3,243.0 250,235 C272.7,227.0 277.1,232.0 300,240 C322.9,248.0 330.7,253.0 336,265 C341.3,277.0 334.9,277.0 320,285 C305.1,293.0 298.7,285.1 280,295 C261.3,304.9 264.7,320.7 250,322 C235.3,323.3 234.3,313.9 225,300 C215.7,286.1 208.3,287.3 215,270Z" fill="#241c7c" />
<path d="M125,345 C129.0,343.1 132.7,359.7 150,365 C167.3,370.3 172.7,367.7 190,365 C207.3,362.3 212.3,350.5 215,355 C217.7,359.5 214.7,373.5 200,382 C185.3,390.5 177.3,389.7 160,387 C142.7,384.3 144.3,383.2 135,372 C125.7,360.8 121.0,346.9 125,345Z" fill="#241c7c" />
<path d="M410,352 C412.7,338.1 416.1,325.9 430,320 C443.9,314.1 456.1,318.8 462,330 C467.9,341.2 463.2,350.8 452,362 C440.8,373.2 431.2,374.7 420,372 C408.8,369.3 407.3,365.9 410,352Z" fill="#241c7c" />
<path d="M300,442 C302.7,432.1 317.5,424.2 330,425 C342.5,425.8 349.7,435.1 347,445 C344.3,454.9 332.5,462.8 320,462 C307.5,461.2 297.3,451.9 300,442Z" fill="#241c7c" />
<path d="M300,120 C308.0,114.7 316.7,102.7 330,100 C343.3,97.3 338.8,112.1 350,110 C361.2,107.9 366.1,96.8 372,92" fill="none" stroke="#241c7c" stroke-width="11.2" stroke-linecap="round" stroke-linejoin="round" />
<path d="M215,135 L225,160 L200,190 L180,230 L150,290 L185,320 L230,290 L270,260 L300,275 L330,230 L345,180 L380,150" fill="none" stroke="#e4107c" stroke-width="5.6" stroke-linecap="round" stroke-linejoin="round" />
<path d="M280,345 L260,390 L290,420 L330,410" fill="none" stroke="#e4107c" stroke-width="5.6" stroke-linecap="round" stroke-linejoin="round" />
<path d="M300,320 L340,300 L380,320 L420,330" fill="none" stroke="#e4107c" stroke-width="5.6" stroke-linecap="round" stroke-linejoin="round" />
<ellipse cx="415" cy="48" rx="50" ry="56" fill="#b4643c" />
<ellipse cx="412" cy="42" rx="28" ry="30" fill="none" stroke="#9c4c84" stroke-width="4" />
<path d="M385,20 L440,68" fill="none" stroke="#9c4c84" stroke-width="5.6" stroke-linecap="round" stroke-linejoin="round" />
<path d="M440,18 L388,70" fill="none" stroke="#9c4c84" stroke-width="5.6" stroke-linecap="round" stroke-linejoin="round" />
<path d="M440,182 C444.0,166.0 443.0,166.2 455,155 C467.0,143.8 474.1,134.7 485,140 C495.9,145.3 495.7,155.0 496,175 C496.3,195.0 495.6,198.5 486,215 C476.4,231.5 472.3,237.0 460,237 C447.7,237.0 445.3,229.7 440,215 C434.7,200.3 436.0,198.0 440,182Z" fill="#b4643c" />
<clipPath id="c14"><path d="M440,182 C444.0,166.0 443.0,166.2 455,155 C467.0,143.8 474.1,134.7 485,140 C495.9,145.3 495.7,155.0 496,175 C496.3,195.0 495.6,198.5 486,215 C476.4,231.5 472.3,237.0 460,237 C447.7,237.0 445.3,229.7 440,215 C434.7,200.3 436.0,198.0 440,182Z"/></clipPath>
<path d="M440,182 C444.0,166.0 443.0,166.2 455,155 C467.0,143.8 474.1,134.7 485,140 C495.9,145.3 495.7,155.0 496,175 C496.3,195.0 495.6,198.5 486,215 C476.4,231.5 472.3,237.0 460,237 C447.7,237.0 445.3,229.7 440,215 C434.7,200.3 436.0,198.0 440,182Z" fill="none" stroke="#241c7c" stroke-width="10" stroke-linejoin="round" clip-path="url(#c14)"/>
<path d="M460,237 L455,300" fill="none" stroke="#241c7c" stroke-width="7" stroke-linecap="round" stroke-linejoin="round" />
<path d="M380,270 L420,270 L440,300 L480,265 L517,260 L490,287 L455,312 L430,305 L400,287Z" fill="#dc1c1c" />
<path d="M490,310 C496.7,315.3 507.0,315.3 515,330 C523.0,344.7 518.7,355.7 520,365" fill="none" stroke="#241c7c" stroke-width="7" stroke-linecap="round" stroke-linejoin="round" />
<path d="M145,460 L190,455 L165,420 L200,430 L210,400 L225,440 L226,472 L195,492Z" fill="#e4107c" />
<path d="M200,510 C197.3,489.5 201.7,483.3 215,470 C228.3,456.7 230.0,458.7 250,460 C270.0,461.3 271.3,472.3 290,475 C308.7,477.7 304.0,468.7 320,470 C336.0,471.3 340.4,466.7 350,480 C359.6,493.3 358.7,499.5 356,520 C353.3,540.5 354.9,545.8 340,557 C325.1,568.2 321.3,564.7 300,562 C278.7,559.3 280.0,551.0 260,547 C240.0,543.0 241.0,556.9 225,547 C209.0,537.1 202.7,530.5 200,510Z" fill="#0c98e8" />
<clipPath id="c15"><path d="M200,510 C197.3,489.5 201.7,483.3 215,470 C228.3,456.7 230.0,458.7 250,460 C270.0,461.3 271.3,472.3 290,475 C308.7,477.7 304.0,468.7 320,470 C336.0,471.3 340.4,466.7 350,480 C359.6,493.3 358.7,499.5 356,520 C353.3,540.5 354.9,545.8 340,557 C325.1,568.2 321.3,564.7 300,562 C278.7,559.3 280.0,551.0 260,547 C240.0,543.0 241.0,556.9 225,547 C209.0,537.1 202.7,530.5 200,510Z"/></clipPath>
<path d="M200,510 C197.3,489.5 201.7,483.3 215,470 C228.3,456.7 230.0,458.7 250,460 C270.0,461.3 271.3,472.3 290,475 C308.7,477.7 304.0,468.7 320,470 C336.0,471.3 340.4,466.7 350,480 C359.6,493.3 358.7,499.5 356,520 C353.3,540.5 354.9,545.8 340,557 C325.1,568.2 321.3,564.7 300,562 C278.7,559.3 280.0,551.0 260,547 C240.0,543.0 241.0,556.9 225,547 C209.0,537.1 202.7,530.5 200,510Z" fill="none" stroke="#241c7c" stroke-width="12" stroke-linejoin="round" clip-path="url(#c15)"/>
<path d="M352,490 C356.3,472.7 349.9,448.5 368,425 C386.1,401.5 392.8,403.3 420,402 C447.2,400.7 448.7,401.9 470,420 C491.3,438.1 494.7,443.3 500,470 C505.3,496.7 503.3,498.7 490,520 C476.7,541.3 474.0,540.1 450,550 C426.0,559.9 422.7,559.1 400,557 C377.3,554.9 374.3,546.0 365,542" fill="none" stroke="#0c98e8" stroke-width="40" stroke-linecap="round" stroke-linejoin="round" />
<ellipse cx="420" cy="480" rx="30" ry="30" fill="#241c7c" />
<path d="M405,470 C411.7,472.7 426.0,472.0 430,480 C434.0,488.0 422.7,494.7 420,500" fill="none" stroke="#e4107c" stroke-width="7" stroke-linecap="round" stroke-linejoin="round" />
<path d="M430,400 L470,412 L465,470 L500,490" fill="none" stroke="#e4107c" stroke-width="5.6" stroke-linecap="round" stroke-linejoin="round" />
<path d="M470,470 L490,520" fill="none" stroke="#f49ca4" stroke-width="11.2" stroke-linecap="round" stroke-linejoin="round" />
</g>
<g transform="translate(265,290) scale(0.17742)">
<path d="M350,75 C355.3,72.3 360.7,63.7 370,65 C379.3,66.3 385.0,69.3 385,80 C385.0,90.7 366.0,91.7 370,105 C374.0,118.3 389.3,112.7 400,130 C410.7,147.3 412.7,150.0 410,170 C407.3,190.0 400.7,197.0 390,205 C379.3,213.0 375.3,201.3 370,200" fill="none" stroke="#ec8424" stroke-width="8.4" stroke-linecap="round" stroke-linejoin="round" />
<path d="M272,270 C266.1,278.0 255.9,278.7 250,300 C244.1,321.3 247.3,323.3 250,350 C252.7,376.7 252.0,373.3 260,400 C268.0,426.7 272.0,423.3 280,450 C288.0,476.7 290.0,481.3 290,500 C290.0,518.7 282.7,514.7 280,520" fill="none" stroke="#ec8424" stroke-width="9.8" stroke-linecap="round" stroke-linejoin="round" />
<path d="M250,350 C260.7,347.3 268.7,340.0 290,340 C311.3,340.0 319.3,347.3 330,350" fill="none" stroke="#ec8424" stroke-width="8.4" stroke-linecap="round" stroke-linejoin="round" />
<path d="M190,280 C200.7,282.7 211.3,282.0 230,290 C248.7,298.0 252.0,304.7 260,310" fill="none" stroke="#ec8424" stroke-width="8.4" stroke-linecap="round" stroke-linejoin="round" />
<path d="M55,355 C61.7,347.0 71.3,346.3 90,345 C108.7,343.7 119.7,343.3 125,350 C130.3,356.7 119.3,358.0 110,370 C100.7,382.0 102.0,393.7 90,395 C78.0,396.3 74.3,385.7 65,375 C55.7,364.3 48.3,363.0 55,355Z" fill="#ffffff" />
<clipPath id="c16"><path d="M55,355 C61.7,347.0 71.3,346.3 90,345 C108.7,343.7 119.7,343.3 125,350 C130.3,356.7 119.3,358.0 110,370 C100.7,382.0 102.0,393.7 90,395 C78.0,396.3 74.3,385.7 65,375 C55.7,364.3 48.3,363.0 55,355Z"/></clipPath>
<path d="M55,355 C61.7,347.0 71.3,346.3 90,345 C108.7,343.7 119.7,343.3 125,350 C130.3,356.7 119.3,358.0 110,370 C100.7,382.0 102.0,393.7 90,395 C78.0,396.3 74.3,385.7 65,375 C55.7,364.3 48.3,363.0 55,355Z" fill="none" stroke="#ec8424" stroke-width="12" stroke-linejoin="round" clip-path="url(#c16)"/>
<path d="M410,290 C420.7,292.7 431.3,301.3 450,300 C468.7,298.7 469.3,295.7 480,285 C490.7,274.3 487.3,266.7 490,260" fill="none" stroke="#ec8424" stroke-width="8.4" stroke-linecap="round" stroke-linejoin="round" />
<path d="M410,320 C418.0,320.0 424.0,317.3 440,320 C456.0,322.7 456.7,319.3 470,330 C483.3,340.7 487.3,344.0 490,360 C492.7,376.0 489.3,380.7 480,390 C470.7,399.3 464.3,399.0 455,395 C445.7,391.0 443.7,384.3 445,375 C446.3,365.7 456.0,364.0 460,360" fill="none" stroke="#ec8424" stroke-width="8.4" stroke-linecap="round" stroke-linejoin="round" />
<path d="M200,440 C210.7,445.3 221.3,449.3 240,460 C258.7,470.7 262.0,474.7 270,480" fill="none" stroke="#ec8424" stroke-width="8.4" stroke-linecap="round" stroke-linejoin="round" />
<path d="M125,290 L175,265 L190,300 L215,340 L200,380 L215,420 L160,440 L110,470 L70,455 L75,430 L130,400 L150,380 L135,340Z" fill="url(#xh)" />
<path d="M203,180 C208.1,166.7 204.7,153.2 222,130 C239.3,106.8 255.7,102.9 268,93" fill="none" stroke="#ec8424" stroke-width="22" stroke-linecap="round" stroke-linejoin="round" />
<path d="M285,95 L350,158" fill="none" stroke="#f49ca4" stroke-width="24" stroke-linecap="round" stroke-linejoin="round" />
<path d="M205,197 L272,258" fill="none" stroke="#f49ca4" stroke-width="24" stroke-linecap="round" stroke-linejoin="round" />
<path d="M297,258 C308.5,246.5 323.2,236.9 340,215 C356.8,193.1 354.7,186.4 360,176" fill="none" stroke="#ec8424" stroke-width="20" stroke-linecap="round" stroke-linejoin="round" />
<path d="M272,108 L335,165 L283,245 L222,187Z" fill="#ffffff" />
<path d="M300,85 L360,145" fill="none" stroke="#1c1c1c" stroke-width="4.2" stroke-linecap="round" stroke-linejoin="round" />
<path d="M258,180 L302,180" fill="none" stroke="#f49ca4" stroke-width="5.6" stroke-linecap="round" stroke-linejoin="round" />
<path d="M260.947,169 L299.053,191" fill="none" stroke="#f49ca4" stroke-width="5.6" stroke-linecap="round" stroke-linejoin="round" />
<path d="M269,160.947 L291,199.053" fill="none" stroke="#f49ca4" stroke-width="5.6" stroke-linecap="round" stroke-linejoin="round" />
<path d="M280,158 L280,202" fill="none" stroke="#f49ca4" stroke-width="5.6" stroke-linecap="round" stroke-linejoin="round" />
<path d="M291,160.947 L269,199.053" fill="none" stroke="#f49ca4" stroke-width="5.6" stroke-linecap="round" stroke-linejoin="round" />
<path d="M299.053,169 L260.947,191" fill="none" stroke="#f49ca4" stroke-width="5.6" stroke-linecap="round" stroke-linejoin="round" />
<path d="M203,72 C203.0,60.8 209.8,50.1 225,45 C240.2,39.9 243.5,46.3 260,53 C276.5,59.7 281.1,58.3 287,70 C292.9,81.7 291.9,91.1 282,97 C272.1,102.9 265.2,94.7 250,92 C234.8,89.3 237.5,92.3 225,87 C212.5,81.7 203.0,83.2 203,72Z" fill="#1c1c1c" />
<path d="M343,150 C347.0,136.9 358.3,135.3 370,138 C381.7,140.7 383.8,146.9 387,160 C390.2,173.1 390.5,179.8 382,187 C373.5,194.2 365.4,196.9 355,187 C344.6,177.1 339.0,163.1 343,150Z" fill="#1c1c1c" />
<path d="M283,275 C285.7,261.9 296.9,255.7 310,253 C323.1,250.3 327.5,253.3 332,265 C336.5,276.7 335.5,287.1 327,297 C318.5,306.9 311.7,307.9 300,302 C288.3,296.1 280.3,288.1 283,275Z" fill="#1c1c1c" />
<path d="M168,205 C173.3,193.3 181.9,188.0 195,188 C208.1,188.0 215.1,193.3 217,205 C218.9,216.7 213.2,224.8 202,232 C190.8,239.2 184.1,239.2 175,232 C165.9,224.8 162.7,216.7 168,205Z" fill="#1c1c1c" />
<path d="M93,205 C97.0,194.6 101.9,190.3 115,193 C128.1,195.7 138.8,201.9 142,215 C145.2,228.1 138.2,237.5 127,242 C115.8,246.5 109.1,241.9 100,232 C90.9,222.1 89.0,215.4 93,205Z" fill="#1c1c1c" />
<path d="M170,90 C175.3,74.0 183.0,61.3 195,60 C207.0,58.7 215.0,66.3 215,85 C215.0,103.7 205.7,120.7 195,130 C184.3,139.3 181.7,130.7 175,120 C168.3,109.3 164.7,106.0 170,90Z" fill="#445474" />
<path d="M100,150 C108.0,138.0 111.3,137.7 130,135 C148.7,132.3 152.7,133.3 170,140 C187.3,146.7 195.0,153.3 195,160 C195.0,166.7 183.3,161.0 170,165 C156.7,169.0 157.0,165.7 145,175 C133.0,184.3 137.0,198.7 125,200 C113.0,201.3 106.7,193.3 100,180 C93.3,166.7 92.0,162.0 100,150Z" fill="#4c445c" />
<path d="M355,215 L400,230 L440,235 L460,260 L420,265 L390,260 L400,300 L385,335 L365,290 L355,250Z" fill="#445474" />
<path d="M430,235 C431.3,226.5 448.5,224.7 465,230 C481.5,235.3 493.3,246.5 492,255 C490.7,263.5 476.5,267.3 460,262 C443.5,256.7 428.7,243.5 430,235Z" fill="#ec8424" />
<path d="M355,310 C361.7,311.3 367.8,319.8 375,335 C382.2,350.2 384.7,363.0 382,367 C379.3,371.0 373.5,359.9 365,350 C356.5,340.1 352.7,340.7 350,330 C347.3,319.3 348.3,308.7 355,310Z" fill="#ec8424" />
<path d="M285,400 L340,395 L400,385 L430,390 L445,430 L475,440 L520,430 L560,480 L587,520 L540,537 L490,552 L450,530 L470,510 L440,490 L400,512 L350,502 L320,450 L300,420Z" fill="#f49ca4" />
<path d="M310,410 L380,400 L425,400 L440,440 L480,450 L520,445 L555,500 L530,520 L490,535 L470,525 L490,505 L500,490 L470,485 L430,470 L400,495 L360,490 L335,450Z" fill="#7c7c7c" />
<path d="M388,442 C391.2,435.3 396.7,430.0 410,430 C423.3,430.0 428.1,433.2 438,442 C447.9,450.8 451.8,458.2 447,463 C442.2,467.8 433.1,462.1 420,460 C406.9,457.9 406.5,459.8 398,455 C389.5,450.2 384.8,448.7 388,442Z" fill="#ffffff" />
<path d="M468,482 C469.3,475.6 486.8,473.7 498,478 C509.2,482.3 511.3,491.6 510,498 C508.7,504.4 504.2,506.3 493,502 C481.8,497.7 466.7,488.4 468,482Z" fill="#ffffff" />
<path d="M415,520 C417.7,530.7 426.3,538.7 425,560 C423.7,581.3 411.3,578.7 410,600 C408.7,621.3 417.3,629.3 420,640" fill="none" stroke="#ec8424" stroke-width="8.4" stroke-linecap="round" stroke-linejoin="round" />
</g>
<g transform="translate(265,385) scale(0.17742)">
<path d="M420,0 C421.3,16.0 426.3,28.0 425,60 C423.7,92.0 413.7,96.0 415,120 C416.3,144.0 426.0,142.0 430,150" fill="none" stroke="#ec8424" stroke-width="8.4" stroke-linecap="round" stroke-linejoin="round" />
<path d="M400,300 C402.7,310.7 402.0,318.7 410,340 C418.0,361.3 422.0,358.7 430,380 C438.0,401.3 436.0,396.0 440,420 C444.0,444.0 443.7,456.7 445,470" fill="none" stroke="#ec8424" stroke-width="8.4" stroke-linecap="round" stroke-linejoin="round" />
<path d="M155,350 C167.0,355.3 180.0,368.7 200,370 C220.0,371.3 226.0,352.3 230,355 C234.0,357.7 228.3,368.0 215,380 C201.7,392.0 193.3,384.0 180,400 C166.7,416.0 165.0,418.7 165,440 C165.0,461.3 170.7,458.7 180,480 C189.3,501.3 198.7,498.7 200,520 C201.3,541.3 190.3,538.7 185,560 C179.7,581.3 181.3,589.3 180,600" fill="none" stroke="#ec8424" stroke-width="8.4" stroke-linecap="round" stroke-linejoin="round" />
<path d="M440,420 C450.7,414.7 458.7,413.3 480,400 C501.3,386.7 506.7,386.0 520,370 C533.3,354.0 527.3,348.0 530,340" fill="none" stroke="#ec8424" stroke-width="7" stroke-linecap="round" stroke-linejoin="round" />
<path d="M30,90 C20.7,68.7 21.0,62.7 25,40 C29.0,17.3 31.7,9.0 45,5 C58.3,1.0 61.7,10.3 75,25 C88.3,39.7 92.3,40.0 95,60 C97.7,80.0 94.3,84.0 85,100 C75.7,116.0 74.7,122.7 60,120 C45.3,117.3 39.3,111.3 30,90Z" fill="#ffffff" />
<clipPath id="c17"><path d="M30,90 C20.7,68.7 21.0,62.7 25,40 C29.0,17.3 31.7,9.0 45,5 C58.3,1.0 61.7,10.3 75,25 C88.3,39.7 92.3,40.0 95,60 C97.7,80.0 94.3,84.0 85,100 C75.7,116.0 74.7,122.7 60,120 C45.3,117.3 39.3,111.3 30,90Z"/></clipPath>
<path d="M30,90 C20.7,68.7 21.0,62.7 25,40 C29.0,17.3 31.7,9.0 45,5 C58.3,1.0 61.7,10.3 75,25 C88.3,39.7 92.3,40.0 95,60 C97.7,80.0 94.3,84.0 85,100 C75.7,116.0 74.7,122.7 60,120 C45.3,117.3 39.3,111.3 30,90Z" fill="none" stroke="#ec8424" stroke-width="12" stroke-linejoin="round" clip-path="url(#c17)"/>
<path d="M20,130 C28.0,128.7 36.7,119.7 50,125 C63.3,130.3 64.7,143.3 70,150" fill="none" stroke="#ec8424" stroke-width="7" stroke-linecap="round" stroke-linejoin="round" />
<path d="M100,10 C100.0,-4.7 110.0,-16.3 130,-35 C150.0,-53.7 156.3,-57.3 175,-60 C193.7,-62.7 193.3,-59.7 200,-45 C206.7,-30.3 208.0,-19.7 200,-5 C192.0,9.7 188.7,3.3 170,10 C151.3,16.7 148.7,20.0 130,20 C111.3,20.0 100.0,24.7 100,10Z" fill="#445474" />
<path d="M110,12 C115.3,6.1 127.3,5.9 150,0 C172.7,-5.9 189.7,-13.2 195,-10 C200.3,-6.8 187.3,3.5 170,12 C152.7,20.5 146.0,22.0 130,22 C114.0,22.0 104.7,17.9 110,12Z" fill="#1c1c1c" />
<path d="M205,-15 C210.3,-28.9 212.7,-32.3 230,-35 C247.3,-37.7 251.3,-30.3 270,-25 C288.7,-19.7 289.3,-24.3 300,-15 C310.7,-5.7 312.7,0.1 310,10 C307.3,19.9 308.7,18.8 290,22 C271.3,25.2 261.3,23.3 240,22 C218.7,20.7 219.3,26.9 210,17 C200.7,7.1 199.7,-1.1 205,-15Z" fill="#ec8424" />
<path d="M225,-10 L250,-20 L275,-5 L295,-15" fill="none" stroke="#8c8ccc" stroke-width="7" stroke-linecap="round" stroke-linejoin="round" />
<path d="M165,60 C170.3,41.3 168.0,42.0 180,30 C192.0,18.0 180.7,19.0 210,15 C239.3,11.0 260.7,8.3 290,15 C319.3,21.7 310.4,20.0 320,40 C329.6,60.0 328.7,66.0 326,90 C323.3,114.0 324.9,113.5 310,130 C295.1,146.5 294.0,144.8 270,152 C246.0,159.2 244.0,162.9 220,157 C196.0,151.1 196.0,145.2 180,130 C164.0,114.8 164.0,118.7 160,100 C156.0,81.3 159.7,78.7 165,60Z" fill="#b4acdc" />
<path d="M165,110 C174.3,111.3 177.3,129.3 200,140 C222.7,150.7 223.3,151.3 250,150 C276.7,148.7 281.3,145.7 300,135 C318.7,124.3 314.1,108.7 320,110 C325.9,111.3 330.0,124.8 322,140 C314.0,155.2 314.5,158.5 290,167 C265.5,175.5 258.0,174.7 230,172 C202.0,169.3 202.3,166.9 185,157 C167.7,147.1 170.3,147.5 165,135 C159.7,122.5 155.7,108.7 165,110Z" fill="#ec8424" />
<path d="M178,100 C191.9,103.2 197.5,113.3 230,112 C262.5,110.7 281.3,99.5 300,95" fill="none" stroke="#ffffff" stroke-width="11.2" stroke-linecap="round" stroke-linejoin="round" />
<path d="M200,50 L230,70 L260,55 L290,70" fill="none" stroke="#8c8ccc" stroke-width="7" stroke-linecap="round" stroke-linejoin="round" />
<ellipse cx="238" cy="110" rx="88" ry="62" fill="none" stroke="#5c7cc4" stroke-width="3" />
<path d="M305,20 C309.0,5.3 315.3,2.7 330,0 C344.7,-2.7 345.1,-2.0 360,10 C374.9,22.0 377.7,23.7 386,45 C394.3,66.3 395.3,74.8 391,90 C386.7,105.2 383.6,103.3 370,102 C356.4,100.7 354.7,97.5 340,85 C325.3,72.5 324.3,72.3 315,55 C305.7,37.7 301.0,34.7 305,20Z" fill="#1c1c1c" />
<path d="M70,137 C72.7,123.1 74.0,113.9 90,100 C106.0,86.1 113.5,87.7 130,85 C146.5,82.3 154.7,84.7 152,90 C149.3,95.3 135.2,94.3 120,105 C104.8,115.7 105.7,117.5 95,130 C84.3,142.5 86.7,150.1 80,152 C73.3,153.9 67.3,150.9 70,137Z" fill="#1c1c1c" />
<path d="M420,65 C422.7,53.8 431.3,44.3 450,35 C468.7,25.7 468.7,24.7 490,30 C511.3,35.3 512.1,41.7 530,55 C547.9,68.3 559.7,71.5 557,80 C554.3,88.5 540.5,93.7 520,87 C499.5,80.3 501.3,57.7 480,55 C458.7,52.3 456.0,74.3 440,77 C424.0,79.7 417.3,76.2 420,65Z" fill="#4c445c" />
<path d="M490,40 C499.3,38.1 512.1,44.3 530,55 C547.9,65.7 559.7,71.5 557,80 C554.3,88.5 536.5,91.8 520,87 C503.5,82.2 503.0,74.5 495,62 C487.0,49.5 480.7,41.9 490,40Z" fill="#1c1c1c" />
<path d="M125,145 L160,165 L230,180 L300,170 L370,155 L430,145 L480,140 L490,115 L540,100 L600,95 L612,110 L570,130 L520,160 L500,200 L497,250 L470,292 L420,302 L360,292 L300,282 L240,257 L180,232 L135,200Z" fill="url(#tri)" />
<clipPath id="c18"><path d="M125,145 L160,165 L230,180 L300,170 L370,155 L430,145 L480,140 L490,115 L540,100 L600,95 L612,110 L570,130 L520,160 L500,200 L497,250 L470,292 L420,302 L360,292 L300,282 L240,257 L180,232 L135,200Z"/></clipPath>
<path d="M125,145 L160,165 L230,180 L300,170 L370,155 L430,145 L480,140 L490,115 L540,100 L600,95 L612,110 L570,130 L520,160 L500,200 L497,250 L470,292 L420,302 L360,292 L300,282 L240,257 L180,232 L135,200Z" fill="none" stroke="#1c1c1c" stroke-width="6" stroke-linejoin="round" clip-path="url(#c18)"/>
<path d="M482,142 L490,115 L540,100 L600,95 L612,110 L570,130 L520,160 L502,195Z" fill="url(#dots)" />
<path d="M20,165 C25.3,160.5 34.0,171.3 50,170 C66.0,168.7 65.3,169.3 80,160 C94.7,150.7 96.5,135.0 105,135 C113.5,135.0 116.0,146.1 112,160 C108.0,173.9 103.9,177.1 90,187 C76.1,196.9 76.0,197.0 60,197 C44.0,197.0 40.7,195.5 30,187 C19.3,178.5 14.7,169.5 20,165Z" fill="#445474" />
<path d="M80,220 C86.7,204.8 101.3,204.7 120,210 C138.7,215.3 147.3,223.5 150,240 C152.7,256.5 144.7,264.8 130,272 C115.3,279.2 108.3,280.9 95,267 C81.7,253.1 73.3,235.2 80,220Z" fill="#b4acdc" />
<path d="M140,290 C152.0,276.1 160.7,272.7 190,270 C219.3,267.3 236.7,271.5 250,280 C263.3,288.5 253.3,293.5 240,302 C226.7,310.5 218.7,304.0 200,312 C181.3,320.0 184.7,329.3 170,332 C155.3,334.7 153.0,333.2 145,322 C137.0,310.8 128.0,303.9 140,290Z" fill="#b4acdc" />
<path d="M295,345 C300.3,329.8 307.3,332.0 330,320 C352.7,308.0 363.5,300.0 380,300 C396.5,300.0 396.0,306.7 392,320 C388.0,333.3 378.9,333.5 365,350 C351.1,366.5 354.7,374.8 340,382 C325.3,389.2 322.0,386.9 310,377 C298.0,367.1 289.7,360.2 295,345Z" fill="#b4acdc" />
<path d="M445,330 C451.7,310.8 452.7,306.7 470,300 C487.3,293.3 496.1,294.3 510,305 C523.9,315.7 524.7,322.1 522,340 C519.3,357.9 513.9,360.8 500,372 C486.1,383.2 484.7,382.0 470,382 C455.3,382.0 451.7,385.9 445,372 C438.3,358.1 438.3,349.2 445,330Z" fill="#b4acdc" />
<path d="M540,260 L580,245 L615,235 L622,330 L600,380 L560,402 L575,350 L590,300 L560,310 L545,290Z" fill="#b4acdc" />
<path d="M100,225 C113.3,237.0 126.0,250.0 150,270 C174.0,290.0 179.3,292.0 190,300" fill="none" stroke="#5c7cc4" stroke-width="4.2" stroke-linecap="round" stroke-linejoin="round" />
<path d="M330,340 L345,385" fill="none" stroke="#5c7cc4" stroke-width="4.2" stroke-linecap="round" stroke-linejoin="round" />
<path d="M480,320 L490,375" fill="none" stroke="#5c7cc4" stroke-width="4.2" stroke-linecap="round" stroke-linejoin="round" />
<path d="M490,335 L550,320 L555,295 L610,290 L600,350" fill="none" stroke="#5c7cc4" stroke-width="4.2" stroke-linecap="round" stroke-linejoin="round" />
<path d="M230,590 C220.7,570.8 223.7,554.7 225,520 C226.3,485.3 223.0,486.7 235,460 C247.0,433.3 250.0,437.3 270,420 C290.0,402.7 286.0,400.3 310,395 C334.0,389.7 336.0,393.3 360,400 C384.0,406.7 381.3,405.3 400,420 C418.7,434.7 418.8,433.7 430,455 C441.2,476.3 441.5,477.3 442,500 C442.5,522.7 437.9,518.1 432,540 C426.1,561.9 427.2,582.0 420,582 C412.8,582.0 411.7,564.5 405,540 C398.3,515.5 404.3,511.3 395,490 C385.7,468.7 384.7,470.7 370,460 C355.3,449.3 353.3,447.3 340,450 C326.7,452.7 330.7,456.7 320,470 C309.3,483.3 310.7,486.7 300,500 C289.3,513.3 286.7,504.0 280,520 C273.3,536.0 280.3,540.8 275,560 C269.7,579.2 272.0,584.0 260,592 C248.0,600.0 239.3,609.2 230,590Z" fill="#445474" />
<path d="M255,480 C260.3,458.7 265.0,456.5 285,440 C305.0,423.5 308.7,422.0 330,418 C351.3,414.0 347.7,416.5 365,425 C382.3,433.5 393.7,442.0 395,450 C396.3,458.0 384.7,456.3 370,455 C355.3,453.7 356.0,442.3 340,445 C324.0,447.7 324.7,450.3 310,465 C295.3,479.7 297.0,485.3 285,500 C273.0,514.7 273.0,525.3 265,520 C257.0,514.7 249.7,501.3 255,480Z" fill="#4c445c" />
<path d="M260,472 C265.3,455.5 271.3,452.5 290,440 C308.7,427.5 313.5,426.3 330,425 C346.5,423.7 354.7,427.0 352,435 C349.3,443.0 336.5,444.3 320,455 C303.5,465.7 303.3,462.5 290,475 C276.7,487.5 278.0,502.8 270,502 C262.0,501.2 254.7,488.5 260,472Z" fill="#ec8424" />
<path d="M280,467 C282.7,458.5 297.5,449.5 310,445 C322.5,440.5 329.7,441.5 327,450 C324.3,458.5 312.5,472.5 300,477 C287.5,481.5 277.3,475.5 280,467Z" fill="#1c1c1c" />
<path d="M440,490 C445.3,476.1 456.0,472.0 480,460 C504.0,448.0 508.7,450.3 530,445 C551.3,439.7 557.3,433.3 560,440 C562.7,446.7 556.0,459.3 540,470 C524.0,480.7 521.3,468.8 500,480 C478.7,491.2 476.0,509.3 460,512 C444.0,514.7 434.7,503.9 440,490Z" fill="#4c445c" />
<path d="M545,445 C554.3,433.0 561.1,431.7 575,425 C588.9,418.3 594.1,413.3 597,420 C599.9,426.7 595.9,434.8 586,450 C576.1,465.2 572.3,471.7 560,477 C547.7,482.3 544.0,478.5 540,470 C536.0,461.5 535.7,457.0 545,445Z" fill="#ec8424" />
<path d="M340,540 C345.3,512.8 354.0,508.0 370,500 C386.0,492.0 388.8,494.0 400,510 C411.2,526.0 414.7,535.5 412,560 C409.3,584.5 406.5,590.8 390,602 C373.5,613.2 363.3,618.5 350,602 C336.7,585.5 334.7,567.2 340,540Z" fill="url(#oh)" />
<clipPath id="c19"><path d="M340,540 C345.3,512.8 354.0,508.0 370,500 C386.0,492.0 388.8,494.0 400,510 C411.2,526.0 414.7,535.5 412,560 C409.3,584.5 406.5,590.8 390,602 C373.5,613.2 363.3,618.5 350,602 C336.7,585.5 334.7,567.2 340,540Z"/></clipPath>
<path d="M340,540 C345.3,512.8 354.0,508.0 370,500 C386.0,492.0 388.8,494.0 400,510 C411.2,526.0 414.7,535.5 412,560 C409.3,584.5 406.5,590.8 390,602 C373.5,613.2 363.3,618.5 350,602 C336.7,585.5 334.7,567.2 340,540Z" fill="none" stroke="#ec8424" stroke-width="10" stroke-linejoin="round" clip-path="url(#c19)"/>
<path d="M455,580 C457.7,563.5 464.8,557.7 480,555 C495.2,552.3 506.7,554.8 512,570 C517.3,585.2 511.2,599.5 500,612 C488.8,624.5 482.0,625.5 470,617 C458.0,608.5 452.3,596.5 455,580Z" fill="url(#oh)" />
<clipPath id="c20"><path d="M455,580 C457.7,563.5 464.8,557.7 480,555 C495.2,552.3 506.7,554.8 512,570 C517.3,585.2 511.2,599.5 500,612 C488.8,624.5 482.0,625.5 470,617 C458.0,608.5 452.3,596.5 455,580Z"/></clipPath>
<path d="M455,580 C457.7,563.5 464.8,557.7 480,555 C495.2,552.3 506.7,554.8 512,570 C517.3,585.2 511.2,599.5 500,612 C488.8,624.5 482.0,625.5 470,617 C458.0,608.5 452.3,596.5 455,580Z" fill="none" stroke="#ec8424" stroke-width="10" stroke-linejoin="round" clip-path="url(#c20)"/>
<path d="M450,545 C458.0,538.3 461.3,526.7 480,520 C498.7,513.3 502.1,513.3 520,520 C537.9,526.7 541.7,530.3 547,545 C552.3,559.7 547.2,565.7 540,575 C532.8,584.3 525.3,578.7 520,580" fill="none" stroke="#ec8424" stroke-width="8.4" stroke-linecap="round" stroke-linejoin="round" />
</g>
<g transform="translate(265,475) scale(0.17742)">
<ellipse cx="195" cy="85" rx="20" ry="20" fill="none" stroke="#ec8424" stroke-width="6" />
<path d="M190,10 C196.7,15.3 207.0,16.7 215,30 C223.0,43.3 218.7,52.0 220,60" fill="none" stroke="#ec8424" stroke-width="8.4" stroke-linecap="round" stroke-linejoin="round" />
<path d="M240,90 C250.7,82.0 265.5,83.7 290,85 C314.5,86.3 326.7,87.8 332,95 C337.3,102.2 326.5,102.1 310,112 C293.5,121.9 286.0,131.2 270,132 C254.0,132.8 258.0,126.2 250,115 C242.0,103.8 229.3,98.0 240,90Z" fill="url(#oh)" />
<clipPath id="c21"><path d="M240,90 C250.7,82.0 265.5,83.7 290,85 C314.5,86.3 326.7,87.8 332,95 C337.3,102.2 326.5,102.1 310,112 C293.5,121.9 286.0,131.2 270,132 C254.0,132.8 258.0,126.2 250,115 C242.0,103.8 229.3,98.0 240,90Z"/></clipPath>
<path d="M240,90 C250.7,82.0 265.5,83.7 290,85 C314.5,86.3 326.7,87.8 332,95 C337.3,102.2 326.5,102.1 310,112 C293.5,121.9 286.0,131.2 270,132 C254.0,132.8 258.0,126.2 250,115 C242.0,103.8 229.3,98.0 240,90Z" fill="none" stroke="#ec8424" stroke-width="10" stroke-linejoin="round" clip-path="url(#c21)"/>
<path d="M340,60 C341.3,38.7 339.0,35.3 355,30 C371.0,24.7 384.8,28.0 400,40 C415.2,52.0 414.1,56.3 412,75 C409.9,93.7 400.5,89.5 392,110 C383.5,130.5 391.2,152.0 380,152 C368.8,152.0 360.7,134.5 350,110 C339.3,85.5 338.7,81.3 340,60Z" fill="url(#oh)" />
<clipPath id="c22"><path d="M340,60 C341.3,38.7 339.0,35.3 355,30 C371.0,24.7 384.8,28.0 400,40 C415.2,52.0 414.1,56.3 412,75 C409.9,93.7 400.5,89.5 392,110 C383.5,130.5 391.2,152.0 380,152 C368.8,152.0 360.7,134.5 350,110 C339.3,85.5 338.7,81.3 340,60Z"/></clipPath>
<path d="M340,60 C341.3,38.7 339.0,35.3 355,30 C371.0,24.7 384.8,28.0 400,40 C415.2,52.0 414.1,56.3 412,75 C409.9,93.7 400.5,89.5 392,110 C383.5,130.5 391.2,152.0 380,152 C368.8,152.0 360.7,134.5 350,110 C339.3,85.5 338.7,81.3 340,60Z" fill="none" stroke="#ec8424" stroke-width="10" stroke-linejoin="round" clip-path="url(#c22)"/>
<path d="M385,205 C389.0,187.7 393.7,192.3 415,175 C436.3,157.7 441.0,156.8 465,140 C489.0,123.2 483.7,121.9 505,112 C526.3,102.1 530.9,96.9 545,103 C559.1,109.1 558.0,115.8 558,135 C558.0,154.2 544.5,156.3 545,175 C545.5,193.7 548.5,183.7 560,205 C571.5,226.3 592.0,241.7 588,255 C584.0,268.3 567.1,257.7 545,255 C522.9,252.3 518.3,237.0 505,245 C491.7,253.0 502.2,262.9 495,285 C487.8,307.1 490.0,324.0 478,328 C466.0,332.0 464.1,316.8 450,300 C435.9,283.2 438.3,281.0 425,265 C411.7,249.0 410.7,256.0 400,240 C389.3,224.0 381.0,222.3 385,205Z" fill="#b4acdc" stroke="#b4acdc" stroke-width="16" stroke-linejoin="round"/>
<path d="M385,205 C389.0,187.7 393.7,192.3 415,175 C436.3,157.7 441.0,156.8 465,140 C489.0,123.2 483.7,121.9 505,112 C526.3,102.1 530.9,96.9 545,103 C559.1,109.1 558.0,115.8 558,135 C558.0,154.2 544.5,156.3 545,175 C545.5,193.7 548.5,183.7 560,205 C571.5,226.3 592.0,241.7 588,255 C584.0,268.3 567.1,257.7 545,255 C522.9,252.3 518.3,237.0 505,245 C491.7,253.0 502.2,262.9 495,285 C487.8,307.1 490.0,324.0 478,328 C466.0,332.0 464.1,316.8 450,300 C435.9,283.2 438.3,281.0 425,265 C411.7,249.0 410.7,256.0 400,240 C389.3,224.0 381.0,222.3 385,205Z" fill="#1c1c1c" />
<path d="M470,140 C468.7,129.9 485.0,121.9 505,112 C525.0,102.1 530.9,96.9 545,103 C559.1,109.1 557.2,118.5 558,135 C558.8,151.5 560.8,161.0 548,165 C535.2,169.0 530.8,156.7 510,150 C489.2,143.3 471.3,150.1 470,140Z" fill="url(#dots)" />
<path d="M380,190 C369.3,195.3 361.3,198.0 340,210 C318.7,222.0 318.7,219.0 300,235 C281.3,251.0 284.7,247.3 270,270 C255.3,292.7 255.7,293.3 245,320 C234.3,346.7 234.0,356.7 230,370" fill="none" stroke="#ec8424" stroke-width="8.4" stroke-linecap="round" stroke-linejoin="round" />
<path d="M330,215 C322.0,208.3 313.3,204.7 300,190 C286.7,175.3 290.7,176.0 280,160 C269.3,144.0 265.3,138.0 260,130" fill="none" stroke="#ec8424" stroke-width="8.4" stroke-linecap="round" stroke-linejoin="round" />
<path d="M180,260 C189.3,268.0 199.0,271.3 215,290 C231.0,308.7 233.3,319.3 240,330" fill="none" stroke="#ec8424" stroke-width="8.4" stroke-linecap="round" stroke-linejoin="round" />
<path d="M250,320 C260.7,318.7 271.3,313.7 290,315 C308.7,316.3 312.0,322.3 320,325" fill="none" stroke="#ec8424" stroke-width="7" stroke-linecap="round" stroke-linejoin="round" />
<path d="M225,200 C226.3,183.5 230.1,174.0 240,170 C249.9,166.0 259.3,173.0 262,185 C264.7,197.0 257.2,202.5 250,215 C242.8,227.5 241.7,236.0 235,232 C228.3,228.0 223.7,216.5 225,200Z" fill="#ec8424" />
<path d="M240,230 C242.7,208.1 253.8,202.3 265,205 C276.2,207.7 280.7,222.1 282,240 C283.3,257.9 277.2,259.5 270,272 C262.8,284.5 263.0,298.2 255,287 C247.0,275.8 237.3,251.9 240,230Z" fill="#4c445c" />
<path d="M265,295 C267.7,285.1 278.7,274.3 300,265 C321.3,255.7 322.3,256.0 345,260 C367.7,264.0 369.8,270.7 385,280 C400.2,289.3 406.0,289.1 402,295 C398.0,300.9 389.2,303.3 370,302 C350.8,300.7 351.3,290.0 330,290 C308.7,290.0 307.3,300.7 290,302 C272.7,303.3 262.3,304.9 265,295Z" fill="#445474" />
<path d="M360,295 C361.3,286.5 372.5,280.0 385,280 C397.5,280.0 408.3,286.5 407,295 C405.7,303.5 392.5,312.0 380,312 C367.5,312.0 358.7,303.5 360,295Z" fill="#ec8424" />
<path d="M155,300 C157.7,293.3 164.3,294.3 175,305 C185.7,315.7 187.8,319.5 195,340 C202.2,360.5 206.0,376.7 202,382 C198.0,387.3 189.9,373.9 180,360 C170.1,346.1 171.7,346.0 165,330 C158.3,314.0 152.3,306.7 155,300Z" fill="#b4acdc" />
<path d="M185,320 C187.7,312.0 197.0,316.7 205,330 C213.0,343.3 209.1,348.1 215,370 C220.9,391.9 229.7,405.3 227,412 C224.3,418.7 213.5,408.9 205,395 C196.5,381.1 200.3,380.0 195,360 C189.7,340.0 182.3,328.0 185,320Z" fill="#445474" />
<path d="M225,400 C227.7,387.5 234.0,381.7 250,375 C266.0,368.3 272.5,368.3 285,375 C297.5,381.7 301.0,388.8 297,400 C293.0,411.2 285.2,411.1 270,417 C254.8,422.9 252.0,426.5 240,422 C228.0,417.5 222.3,412.5 225,400Z" fill="#4c445c" />
<path d="M210,440 C212.7,424.8 221.1,422.7 235,420 C248.9,417.3 256.4,418.8 262,430 C267.6,441.2 265.9,449.5 256,462 C246.1,474.5 237.3,482.9 225,477 C212.7,471.1 207.3,455.2 210,440Z" fill="#b4acdc" />
<path d="M285,400 C287.7,386.7 295.1,384.7 305,390 C314.9,395.3 320.4,402.1 322,420 C323.6,437.9 318.2,451.7 311,457 C303.8,462.3 301.9,455.2 295,440 C288.1,424.8 282.3,413.3 285,400Z" fill="#b4acdc" />
<path d="M215,435 C208.3,436.3 200.7,432.0 190,440 C179.3,448.0 176.3,450.3 175,465 C173.7,479.7 178.3,485.7 185,495 C191.7,504.3 196.0,498.7 200,500" fill="none" stroke="#ec8424" stroke-width="8.4" stroke-linecap="round" stroke-linejoin="round" />
<path d="M335,372 C341.7,357.3 347.7,353.5 365,345 C382.3,336.5 377.3,340.0 400,340 C422.7,340.0 429.5,335.7 450,345 C470.5,354.3 468.5,360.3 477,375 C485.5,389.7 486.5,384.8 482,400 C477.5,415.2 476.5,420.8 460,432 C443.5,443.2 441.3,439.3 420,442 C398.7,444.7 398.7,446.0 380,442 C361.3,438.0 360.7,438.2 350,427 C339.3,415.8 344.0,414.7 340,400 C336.0,385.3 328.3,386.7 335,372Z" fill="#5c7cc4" />
<path d="M345,395 C353.0,383.8 360.0,386.3 380,385 C400.0,383.7 397.3,390.0 420,390 C442.7,390.0 454.3,374.3 465,385 C475.7,395.7 472.0,414.8 460,430 C448.0,445.2 441.3,438.8 420,442 C398.7,445.2 398.7,446.0 380,442 C361.3,438.0 359.3,439.5 350,427 C340.7,414.5 337.0,406.2 345,395Z" fill="#b4acdc" />
<path d="M350,395 L380,385 L410,395 L440,385 L470,392" fill="none" stroke="#5c7cc4" stroke-width="8.4" stroke-linecap="round" stroke-linejoin="round" />
<path d="M355,415 L390,408 L420,418 L455,408" fill="none" stroke="#5c7cc4" stroke-width="7" stroke-linecap="round" stroke-linejoin="round" />
<path d="M510,420 L525,380 L552,395 L557,425Z" fill="#ec8424" />
<path d="M510,420 L557,425 L547,500 L530,537 L485,542 L495,480Z" fill="#4c445c" />
<path d="M500,540 C505.3,548.0 516.0,554.0 520,570 C524.0,586.0 515.0,581.3 515,600 C515.0,618.7 518.7,629.3 520,640" fill="none" stroke="#ec8424" stroke-width="8.4" stroke-linecap="round" stroke-linejoin="round" />
</g>
<g transform="translate(265,560) scale(0.17742)">
<path d="M505,60 C510.3,70.7 521.0,76.0 525,100 C529.0,124.0 529.3,128.7 520,150 C510.7,171.3 503.3,176.0 490,180 C476.7,184.0 475.3,178.3 470,165 C464.7,151.7 463.3,142.0 470,130 C476.7,118.0 485.7,117.3 495,120 C504.3,122.7 502.3,134.7 505,140" fill="none" stroke="#ec8424" stroke-width="8.4" stroke-linecap="round" stroke-linejoin="round" />
<path d="M520,200 C512.0,213.3 503.3,220.7 490,250 C476.7,279.3 483.3,283.3 470,310 C456.7,336.7 456.0,331.3 440,350 C424.0,368.7 428.7,370.7 410,380 C391.3,389.3 380.7,383.7 370,385" fill="none" stroke="#ec8424" stroke-width="12.6" stroke-linecap="round" stroke-linejoin="round" />
<path d="M505,260 C507.7,273.3 516.3,280.7 515,310 C513.7,339.3 512.0,348.1 500,370 C488.0,391.9 483.3,373.3 470,392 C456.7,410.7 455.3,427.2 450,440" fill="none" stroke="#ec8424" stroke-width="7" stroke-linecap="round" stroke-linejoin="round" />
<path d="M300,190 C302.7,200.7 302.0,208.7 310,230 C318.0,251.3 322.0,254.8 330,270 C338.0,285.2 337.3,282.5 340,287" fill="none" stroke="#ec8424" stroke-width="8.4" stroke-linecap="round" stroke-linejoin="round" />
<path d="M260,270 C270.7,268.7 281.3,265.0 300,265 C318.7,265.0 322.0,268.7 330,270" fill="none" stroke="#ec8424" stroke-width="8.4" stroke-linecap="round" stroke-linejoin="round" />
<path d="M350,225 L340,260" fill="none" stroke="#ec8424" stroke-width="8.4" stroke-linecap="round" stroke-linejoin="round" />
<path d="M180,0 L190,20" fill="none" stroke="#ec8424" stroke-width="8.4" stroke-linecap="round" stroke-linejoin="round" />
<ellipse cx="392" cy="75" rx="40" ry="40" fill="#b4acdc" />
<ellipse cx="385" cy="60" rx="52" ry="58" fill="url(#pine)" />
<path d="M155,165 C149.7,152.5 154.3,144.0 165,120 C175.7,96.0 175.0,92.3 195,75 C215.0,57.7 215.5,60.3 240,55 C264.5,49.7 284.3,47.0 287,55 C289.7,63.0 269.2,70.3 250,85 C230.8,99.7 229.7,92.7 215,110 C200.3,127.3 203.0,134.8 195,150 C187.0,165.2 195.7,163.0 185,167 C174.3,171.0 160.3,177.5 155,165Z" fill="#445474" />
<path d="M160,165 C165.3,152.5 179.7,153.3 185,160 C190.3,166.7 185.3,177.5 180,190 C174.7,202.5 170.3,213.7 165,207 C159.7,200.3 154.7,177.5 160,165Z" fill="#ec8424" />
<path d="M235,215 C232.3,197.1 226.0,191.3 230,170 C234.0,148.7 234.0,149.7 250,135 C266.0,120.3 266.0,120.3 290,115 C314.0,109.7 313.3,113.7 340,115 C366.7,116.3 367.3,121.3 390,120 C412.7,118.7 411.1,107.3 425,110 C438.9,112.7 442.0,115.3 442,130 C442.0,144.7 433.5,149.0 425,165 C416.5,181.0 408.7,176.7 410,190 C411.3,203.3 420.1,203.0 430,215 C439.9,227.0 451.0,226.5 447,235 C443.0,243.5 431.5,249.7 415,247 C398.5,244.3 397.0,238.9 385,225 C373.0,211.1 376.7,209.7 370,195 C363.3,180.3 373.3,178.0 360,170 C346.7,162.0 337.3,163.7 320,165 C302.7,166.3 304.3,163.0 295,175 C285.7,187.0 293.0,193.5 285,210 C277.0,226.5 277.0,229.8 265,237 C253.0,244.2 248.0,242.9 240,237 C232.0,231.1 237.7,232.9 235,215Z" fill="#1c1c1c" />
<path d="M190,225 C191.3,214.3 200.3,211.0 215,215 C229.7,219.0 238.3,227.5 245,240 C251.7,252.5 249.3,258.0 240,262 C230.7,266.0 223.3,264.9 210,255 C196.7,245.1 188.7,235.7 190,225Z" fill="#5c7cc4" />
<path d="M395,265 C400.3,253.8 407.5,252.7 420,250 C432.5,247.3 440.7,245.1 442,255 C443.3,264.9 436.2,277.1 425,287 C413.8,296.9 408.0,297.9 400,292 C392.0,286.1 389.7,276.2 395,265Z" fill="#5c7cc4" />
<ellipse cx="245" cy="355" rx="45" ry="47" fill="#b4acdc" />
<path d="M225,330 C227.7,340.7 227.0,360.7 235,370 C243.0,379.3 247.0,375.7 255,365 C263.0,354.3 267.7,335.3 265,330 C262.3,324.7 250.3,341.0 245,345" fill="none" stroke="#5c7cc4" stroke-width="5.6" stroke-linecap="round" stroke-linejoin="round" />
<path d="M245,400 C250.3,382.1 262.7,376.0 280,360 C297.3,344.0 291.3,338.7 310,340 C328.7,341.3 333.5,353.0 350,365 C366.5,377.0 374.7,372.5 372,385 C369.3,397.5 359.2,400.8 340,412 C320.8,423.2 321.3,423.0 300,427 C278.7,431.0 274.7,434.2 260,427 C245.3,419.8 239.7,417.9 245,400Z" fill="url(#bs)" />
<path d="M320,330 C321.3,317.5 321.7,307.0 335,295 C348.3,283.0 351.3,282.3 370,285 C388.7,287.7 392.5,290.3 405,305 C417.5,319.7 419.7,324.8 417,340 C414.3,355.2 406.2,362.0 395,362 C383.8,362.0 387.0,349.9 375,340 C363.0,330.1 362.0,324.5 350,325 C338.0,325.5 338.0,340.7 330,342 C322.0,343.3 318.7,342.5 320,330Z" fill="#1c1c1c" />
<path d="M375,400 C379.0,393.3 394.8,389.7 410,395 C425.2,400.3 427.5,402.7 432,420 C436.5,437.3 435.5,442.1 427,460 C418.5,477.9 415.2,478.5 400,487 C384.8,495.5 384.7,496.5 370,492 C355.3,487.5 353.0,483.9 345,470 C337.0,456.1 333.3,444.0 340,440 C346.7,436.0 355.3,453.7 370,455 C384.7,456.3 388.3,454.3 395,445 C401.7,435.7 400.3,432.0 395,420 C389.7,408.0 371.0,406.7 375,400Z" fill="#1c1c1c" />
</g>
</svg>
<svg width="620" height="860" viewBox="0 0 620 860">
<path d="M481.30,738.90h15.74v2.30h-15.74zM499.29,738.90h11.24v2.30h-11.24zM512.78,738.90h4.50v2.30h-4.50zM524.02,738.90h2.25v2.30h-2.25zM528.52,738.90h2.25v2.30h-2.25zM533.02,738.90h8.99v2.30h-8.99zM544.26,738.90h2.25v2.30h-2.25zM548.76,738.90h15.74v2.30h-15.74zM481.30,741.15h2.25v2.30h-2.25zM494.79,741.15h2.25v2.30h-2.25zM508.28,741.15h2.25v2.30h-2.25zM512.78,741.15h4.50v2.30h-4.50zM519.53,741.15h6.75v2.30h-6.75zM535.27,741.15h2.25v2.30h-2.25zM544.26,741.15h2.25v2.30h-2.25zM548.76,741.15h2.25v2.30h-2.25zM562.25,741.15h2.25v2.30h-2.25zM481.30,743.40h2.25v2.30h-2.25zM485.80,743.40h6.75v2.30h-6.75zM494.79,743.40h2.25v2.30h-2.25zM499.29,743.40h2.25v2.30h-2.25zM503.79,743.40h6.75v2.30h-6.75zM512.78,743.40h4.50v2.30h-4.50zM526.27,743.40h6.75v2.30h-6.75zM537.52,743.40h8.99v2.30h-8.99zM548.76,743.40h2.25v2.30h-2.25zM553.26,743.40h6.75v2.30h-6.75zM562.25,743.40h2.25v2.30h-2.25zM481.30,745.65h2.25v2.30h-2.25zM485.80,745.65h6.75v2.30h-6.75zM494.79,745.65h2.25v2.30h-2.25zM501.54,745.65h6.75v2.30h-6.75zM510.53,745.65h24.74v2.30h-24.74zM539.76,745.65h6.75v2.30h-6.75zM548.76,745.65h2.25v2.30h-2.25zM553.26,745.65h6.75v2.30h-6.75zM562.25,745.65h2.25v2.30h-2.25zM481.30,747.89h2.25v2.30h-2.25zM485.80,747.89h6.75v2.30h-6.75zM494.79,747.89h2.25v2.30h-2.25zM501.54,747.89h2.25v2.30h-2.25zM512.78,747.89h6.75v2.30h-6.75zM526.27,747.89h4.50v2.30h-4.50zM544.26,747.89h2.25v2.30h-2.25zM548.76,747.89h2.25v2.30h-2.25zM553.26,747.89h6.75v2.30h-6.75zM562.25,747.89h2.25v2.30h-2.25zM481.30,750.14h2.25v2.30h-2.25zM494.79,750.14h2.25v2.30h-2.25zM499.29,750.14h2.25v2.30h-2.25zM508.28,750.14h2.25v2.30h-2.25zM515.03,750.14h2.25v2.30h-2.25zM526.27,750.14h4.50v2.30h-4.50zM533.02,750.14h2.25v2.30h-2.25zM539.76,750.14h4.50v2.30h-4.50zM548.76,750.14h2.25v2.30h-2.25zM562.25,750.14h2.25v2.30h-2.25zM481.30,752.39h15.74v2.30h-15.74zM499.29,752.39h2.25v2.30h-2.25zM503.79,752.39h2.25v2.30h-2.25zM508.28,752.39h2.25v2.30h-2.25zM512.78,752.39h2.25v2.30h-2.25zM517.28,752.39h2.25v2.30h-2.25zM521.78,752.39h2.25v2.30h-2.25zM526.27,752.39h2.25v2.30h-2.25zM530.77,752.39h2.25v2.30h-2.25zM535.27,752.39h2.25v2.30h-2.25zM539.76,752.39h2.25v2.30h-2.25zM544.26,752.39h2.25v2.30h-2.25zM548.76,752.39h15.74v2.30h-15.74zM501.54,754.64h4.50v2.30h-4.50zM517.28,754.64h2.25v2.30h-2.25zM528.52,754.64h2.25v2.30h-2.25zM533.02,754.64h2.25v2.30h-2.25zM544.26,754.64h2.25v2.30h-2.25zM481.30,756.89h2.25v2.30h-2.25zM490.29,756.89h2.25v2.30h-2.25zM494.79,756.89h4.50v2.30h-4.50zM503.79,756.89h2.25v2.30h-2.25zM508.28,756.89h4.50v2.30h-4.50zM517.28,756.89h4.50v2.30h-4.50zM524.02,756.89h6.75v2.30h-6.75zM533.02,756.89h2.25v2.30h-2.25zM537.52,756.89h6.75v2.30h-6.75zM548.76,756.89h2.25v2.30h-2.25zM557.75,756.89h6.75v2.30h-6.75zM483.55,759.14h6.75v2.30h-6.75zM497.04,759.14h2.25v2.30h-2.25zM506.04,759.14h4.50v2.30h-4.50zM512.78,759.14h4.50v2.30h-4.50zM524.02,759.14h2.25v2.30h-2.25zM528.52,759.14h2.25v2.30h-2.25zM533.02,759.14h4.50v2.30h-4.50zM542.01,759.14h4.50v2.30h-4.50zM548.76,759.14h15.74v2.30h-15.74zM483.55,761.39h2.25v2.30h-2.25zM488.05,761.39h11.24v2.30h-11.24zM503.79,761.39h4.50v2.30h-4.50zM510.53,761.39h2.25v2.30h-2.25zM515.03,761.39h4.50v2.30h-4.50zM521.78,761.39h2.25v2.30h-2.25zM530.77,761.39h2.25v2.30h-2.25zM539.76,761.39h11.24v2.30h-11.24zM553.26,761.39h6.75v2.30h-6.75zM483.55,763.64h11.24v2.30h-11.24zM497.04,763.64h2.25v2.30h-2.25zM506.04,763.64h2.25v2.30h-2.25zM510.53,763.64h11.24v2.30h-11.24zM524.02,763.64h2.25v2.30h-2.25zM528.52,763.64h17.99v2.30h-17.99zM560.00,763.64h4.50v2.30h-4.50zM483.55,765.88h2.25v2.30h-2.25zM490.29,765.88h2.25v2.30h-2.25zM494.79,765.88h2.25v2.30h-2.25zM503.79,765.88h2.25v2.30h-2.25zM526.27,765.88h11.24v2.30h-11.24zM548.76,765.88h4.50v2.30h-4.50zM481.30,768.13h2.25v2.30h-2.25zM485.80,768.13h6.75v2.30h-6.75zM501.54,768.13h6.75v2.30h-6.75zM517.28,768.13h6.75v2.30h-6.75zM526.27,768.13h2.25v2.30h-2.25zM530.77,768.13h6.75v2.30h-6.75zM544.26,768.13h2.25v2.30h-2.25zM548.76,768.13h6.75v2.30h-6.75zM557.75,768.13h2.25v2.30h-2.25zM481.30,770.38h4.50v2.30h-4.50zM490.29,770.38h6.75v2.30h-6.75zM499.29,770.38h2.25v2.30h-2.25zM503.79,770.38h2.25v2.30h-2.25zM510.53,770.38h2.25v2.30h-2.25zM521.78,770.38h2.25v2.30h-2.25zM526.27,770.38h20.24v2.30h-20.24zM548.76,770.38h2.25v2.30h-2.25zM555.51,770.38h2.25v2.30h-2.25zM481.30,772.63h6.75v2.30h-6.75zM492.54,772.63h2.25v2.30h-2.25zM497.04,772.63h6.75v2.30h-6.75zM506.04,772.63h2.25v2.30h-2.25zM510.53,772.63h4.50v2.30h-4.50zM517.28,772.63h4.50v2.30h-4.50zM539.76,772.63h2.25v2.30h-2.25zM544.26,772.63h2.25v2.30h-2.25zM551.01,772.63h4.50v2.30h-4.50zM557.75,772.63h6.75v2.30h-6.75zM481.30,774.88h2.25v2.30h-2.25zM488.05,774.88h2.25v2.30h-2.25zM492.54,774.88h13.49v2.30h-13.49zM508.28,774.88h4.50v2.30h-4.50zM517.28,774.88h17.99v2.30h-17.99zM542.01,774.88h4.50v2.30h-4.50zM548.76,774.88h8.99v2.30h-8.99zM560.00,774.88h2.25v2.30h-2.25zM485.80,777.13h8.99v2.30h-8.99zM503.79,777.13h4.50v2.30h-4.50zM512.78,777.13h2.25v2.30h-2.25zM517.28,777.13h4.50v2.30h-4.50zM530.77,777.13h6.75v2.30h-6.75zM551.01,777.13h2.25v2.30h-2.25zM555.51,777.13h2.25v2.30h-2.25zM560.00,777.13h2.25v2.30h-2.25zM483.55,779.38h6.75v2.30h-6.75zM494.79,779.38h4.50v2.30h-4.50zM503.79,779.38h4.50v2.30h-4.50zM510.53,779.38h6.75v2.30h-6.75zM524.02,779.38h6.75v2.30h-6.75zM535.27,779.38h6.75v2.30h-6.75zM544.26,779.38h4.50v2.30h-4.50zM553.26,779.38h8.99v2.30h-8.99zM481.30,781.62h2.25v2.30h-2.25zM490.29,781.62h2.25v2.30h-2.25zM499.29,781.62h4.50v2.30h-4.50zM506.04,781.62h2.25v2.30h-2.25zM510.53,781.62h8.99v2.30h-8.99zM524.02,781.62h6.75v2.30h-6.75zM533.02,781.62h8.99v2.30h-8.99zM553.26,781.62h4.50v2.30h-4.50zM562.25,781.62h2.25v2.30h-2.25zM483.55,783.87h15.74v2.30h-15.74zM501.54,783.87h2.25v2.30h-2.25zM506.04,783.87h4.50v2.30h-4.50zM515.03,783.87h8.99v2.30h-8.99zM526.27,783.87h4.50v2.30h-4.50zM533.02,783.87h4.50v2.30h-4.50zM542.01,783.87h6.75v2.30h-6.75zM551.01,783.87h2.25v2.30h-2.25zM557.75,783.87h4.50v2.30h-4.50zM483.55,786.12h2.25v2.30h-2.25zM488.05,786.12h6.75v2.30h-6.75zM503.79,786.12h6.75v2.30h-6.75zM515.03,786.12h8.99v2.30h-8.99zM526.27,786.12h2.25v2.30h-2.25zM539.76,786.12h6.75v2.30h-6.75zM548.76,786.12h4.50v2.30h-4.50zM555.51,786.12h6.75v2.30h-6.75zM481.30,788.37h2.25v2.30h-2.25zM490.29,788.37h8.99v2.30h-8.99zM501.54,788.37h6.75v2.30h-6.75zM519.53,788.37h2.25v2.30h-2.25zM524.02,788.37h2.25v2.30h-2.25zM528.52,788.37h2.25v2.30h-2.25zM533.02,788.37h8.99v2.30h-8.99zM546.51,788.37h4.50v2.30h-4.50zM555.51,788.37h2.25v2.30h-2.25zM481.30,790.62h4.50v2.30h-4.50zM492.54,790.62h2.25v2.30h-2.25zM497.04,790.62h4.50v2.30h-4.50zM508.28,790.62h2.25v2.30h-2.25zM512.78,790.62h4.50v2.30h-4.50zM521.78,790.62h2.25v2.30h-2.25zM528.52,790.62h11.24v2.30h-11.24zM544.26,790.62h6.75v2.30h-6.75zM553.26,790.62h6.75v2.30h-6.75zM481.30,792.87h6.75v2.30h-6.75zM492.54,792.87h4.50v2.30h-4.50zM499.29,792.87h6.75v2.30h-6.75zM508.28,792.87h2.25v2.30h-2.25zM512.78,792.87h4.50v2.30h-4.50zM521.78,792.87h4.50v2.30h-4.50zM528.52,792.87h4.50v2.30h-4.50zM535.27,792.87h2.25v2.30h-2.25zM539.76,792.87h2.25v2.30h-2.25zM544.26,792.87h6.75v2.30h-6.75zM557.75,792.87h2.25v2.30h-2.25zM562.25,792.87h2.25v2.30h-2.25zM483.55,795.12h4.50v2.30h-4.50zM492.54,795.12h2.25v2.30h-2.25zM501.54,795.12h4.50v2.30h-4.50zM510.53,795.12h4.50v2.30h-4.50zM517.28,795.12h2.25v2.30h-2.25zM526.27,795.12h2.25v2.30h-2.25zM530.77,795.12h4.50v2.30h-4.50zM539.76,795.12h6.75v2.30h-6.75zM548.76,795.12h6.75v2.30h-6.75zM560.00,795.12h2.25v2.30h-2.25zM483.55,797.36h2.25v2.30h-2.25zM488.05,797.36h2.25v2.30h-2.25zM494.79,797.36h6.75v2.30h-6.75zM503.79,797.36h2.25v2.30h-2.25zM508.28,797.36h6.75v2.30h-6.75zM517.28,797.36h4.50v2.30h-4.50zM526.27,797.36h17.99v2.30h-17.99zM546.51,797.36h2.25v2.30h-2.25zM551.01,797.36h2.25v2.30h-2.25zM560.00,797.36h2.25v2.30h-2.25zM481.30,799.61h2.25v2.30h-2.25zM485.80,799.61h2.25v2.30h-2.25zM497.04,799.61h2.25v2.30h-2.25zM501.54,799.61h2.25v2.30h-2.25zM508.28,799.61h2.25v2.30h-2.25zM515.03,799.61h4.50v2.30h-4.50zM521.78,799.61h2.25v2.30h-2.25zM526.27,799.61h2.25v2.30h-2.25zM530.77,799.61h2.25v2.30h-2.25zM537.52,799.61h4.50v2.30h-4.50zM544.26,799.61h8.99v2.30h-8.99zM560.00,799.61h2.25v2.30h-2.25zM481.30,801.86h2.25v2.30h-2.25zM488.05,801.86h2.25v2.30h-2.25zM494.79,801.86h2.25v2.30h-2.25zM499.29,801.86h2.25v2.30h-2.25zM506.04,801.86h2.25v2.30h-2.25zM510.53,801.86h2.25v2.30h-2.25zM517.28,801.86h2.25v2.30h-2.25zM521.78,801.86h4.50v2.30h-4.50zM528.52,801.86h2.25v2.30h-2.25zM533.02,801.86h2.25v2.30h-2.25zM544.26,801.86h13.49v2.30h-13.49zM562.25,801.86h2.25v2.30h-2.25zM503.79,804.11h2.25v2.30h-2.25zM508.28,804.11h4.50v2.30h-4.50zM515.03,804.11h6.75v2.30h-6.75zM528.52,804.11h6.75v2.30h-6.75zM539.76,804.11h2.25v2.30h-2.25zM544.26,804.11h2.25v2.30h-2.25zM553.26,804.11h4.50v2.30h-4.50zM560.00,804.11h4.50v2.30h-4.50zM481.30,806.36h15.74v2.30h-15.74zM506.04,806.36h8.99v2.30h-8.99zM521.78,806.36h2.25v2.30h-2.25zM528.52,806.36h2.25v2.30h-2.25zM533.02,806.36h13.49v2.30h-13.49zM548.76,806.36h2.25v2.30h-2.25zM553.26,806.36h4.50v2.30h-4.50zM560.00,806.36h2.25v2.30h-2.25zM481.30,808.61h2.25v2.30h-2.25zM494.79,808.61h2.25v2.30h-2.25zM499.29,808.61h2.25v2.30h-2.25zM508.28,808.61h2.25v2.30h-2.25zM512.78,808.61h4.50v2.30h-4.50zM528.52,808.61h2.25v2.30h-2.25zM537.52,808.61h2.25v2.30h-2.25zM544.26,808.61h2.25v2.30h-2.25zM553.26,808.61h8.99v2.30h-8.99zM481.30,810.86h2.25v2.30h-2.25zM485.80,810.86h6.75v2.30h-6.75zM494.79,810.86h2.25v2.30h-2.25zM499.29,810.86h2.25v2.30h-2.25zM503.79,810.86h2.25v2.30h-2.25zM512.78,810.86h2.25v2.30h-2.25zM521.78,810.86h8.99v2.30h-8.99zM542.01,810.86h22.49v2.30h-22.49zM481.30,813.11h2.25v2.30h-2.25zM485.80,813.11h6.75v2.30h-6.75zM494.79,813.11h2.25v2.30h-2.25zM499.29,813.11h4.50v2.30h-4.50zM506.04,813.11h2.25v2.30h-2.25zM512.78,813.11h2.25v2.30h-2.25zM517.28,813.11h2.25v2.30h-2.25zM521.78,813.11h6.75v2.30h-6.75zM533.02,813.11h6.75v2.30h-6.75zM542.01,813.11h6.75v2.30h-6.75zM551.01,813.11h2.25v2.30h-2.25zM555.51,813.11h4.50v2.30h-4.50zM562.25,813.11h2.25v2.30h-2.25zM481.30,815.35h2.25v2.30h-2.25zM485.80,815.35h6.75v2.30h-6.75zM494.79,815.35h2.25v2.30h-2.25zM499.29,815.35h4.50v2.30h-4.50zM506.04,815.35h2.25v2.30h-2.25zM510.53,815.35h6.75v2.30h-6.75zM521.78,815.35h2.25v2.30h-2.25zM526.27,815.35h4.50v2.30h-4.50zM539.76,815.35h6.75v2.30h-6.75zM553.26,815.35h4.50v2.30h-4.50zM562.25,815.35h2.25v2.30h-2.25zM481.30,817.60h2.25v2.30h-2.25zM494.79,817.60h2.25v2.30h-2.25zM499.29,817.60h6.75v2.30h-6.75zM508.28,817.60h6.75v2.30h-6.75zM519.53,817.60h2.25v2.30h-2.25zM524.02,817.60h4.50v2.30h-4.50zM535.27,817.60h4.50v2.30h-4.50zM542.01,817.60h11.24v2.30h-11.24zM562.25,817.60h2.25v2.30h-2.25zM481.30,819.85h15.74v2.30h-15.74zM499.29,819.85h4.50v2.30h-4.50zM519.53,819.85h4.50v2.30h-4.50zM526.27,819.85h4.50v2.30h-4.50zM537.52,819.85h6.75v2.30h-6.75zM546.51,819.85h2.25v2.30h-2.25zM553.26,819.85h2.25v2.30h-2.25zM560.00,819.85h4.50v2.30h-4.50z" fill="#4c4c4c"/>
<rect x="510.6" y="768" width="24.6" height="24" rx="2.5" fill="#fff"/>
<rect x="511.6" y="769" width="22.6" height="22" rx="2" fill="#f0604c"/>
<g font-family="'Liberation Sans','Noto Sans CJK SC',sans-serif" font-size="9.5" font-weight="bold" fill="#fff" text-anchor="middle">
<text x="517.6" y="779">以</text><text x="528.2" y="779">展</text><text x="517.6" y="789.3">图</text><text x="528.2" y="789.3">版</text></g>
<path d="M497.5,831.5 C520,826.5 548,827 572,837.5 C549,830.5 522,829.5 497.5,832.2Z" fill="#ee8592" stroke="#ee8592" stroke-width="0.8"/>
<text x="476" y="848.6" font-family="'Liberation Sans',sans-serif" font-weight="bold" font-size="22" fill="#ee8592" stroke="#ee8592" stroke-width="1" textLength="96" lengthAdjust="spacingAndGlyphs">6xiu.com</text>
</svg>
<svg width="620" height="860" viewBox="0 0 620 860" shape-rendering="crispEdges"><g fill="#ff0000"><rect x="192" y="89" width="1" height="769"/><rect x="3" y="470" width="377" height="1"/></g></svg>
<div class="title">生产作业图</div>
<div class="t" style="left:7px;top:24px">Wilcom(<span class="c">汇京</span>)<span class="c"> 装饰工作室</span></div>
<div class="t" style="left:7px;top:62px"><span class="c">花版</span>: <span style="letter-spacing:0.05px;margin-left:2px">xy500.EMB</span></div>
<div class="t" style="left:7px;top:75px"><span class="c">色位</span>: <span style="letter-spacing:-0.08px;margin-left:2px">Colorway 1</span></div>
<div class="t" style="left:542px;top:6.2px"><span class="c">针数</span>:</div><div class="t" style="left:571px;top:6.2px">30625</div>
<div class="t" style="left:542px;top:19.4px"><span class="c">颜色</span>:</div><div class="t" style="left:571px;top:19.4px">19</div>
<div class="t" style="left:542px;top:32.7px"><span class="c">高度</span>:</div><div class="t" style="left:571px;top:32.7px">227.6 mm</div>
<div class="t" style="left:542px;top:46.0px"><span class="c">宽度</span>:</div><div class="t" style="left:571px;top:46.0px">239.2 mm</div>
<div class="t" style="left:542px;top:59.2px"><span class="c">比例</span>:</div><div class="t" style="left:571px;top:59.2px">0.52</div>
<div class="t" style="left:383px;top:89px"><span class="c">停止顺序</span> :</div>
<div class="t h" style="left:383px;top:101.8px">#</div>
<div class="t h" style="left:402px;top:101.8px">N#</div>
<div class="t h r" style="left:420px;width:31px;top:101.8px">St.</div>
<div class="t h" style="left:455px;top:101.8px"><span class="c">代码</span></div>
<div class="t h" style="left:482px;top:101.8px"><span class="c">描述</span></div>
<div class="t h" style="left:556px;top:101.8px">Brand</div>
<div class="t h" style="left:593px;top:101.8px"><span class="c">元素</span></div>
<div class="t" style="left:383px;top:115.6px">1.</div>
<div class="t" style="left:402px;top:115.6px">1</div>
<div class="sw" style="left:418px;top:115px;background:#241c7c"></div>
<div class="t r" style="left:420px;width:31px;top:115.6px">5276</div>
<div class="t r" style="left:455px;width:22px;top:115.6px">1</div>
<div class="t" style="left:482px;top:115.6px">Blue</div>
<div class="t" style="left:556px;top:115.6px">Wilcom</div>
<div class="t" style="left:383px;top:128.9px">2.</div>
<div class="t" style="left:402px;top:128.9px">2</div>
<div class="sw" style="left:418px;top:128px;background:#0c98e8"></div>
<div class="t r" style="left:420px;width:31px;top:128.9px">2244</div>
<div class="t r" style="left:455px;width:22px;top:128.9px">2</div>
<div class="t" style="left:482px;top:128.9px">Cyan</div>
<div class="t" style="left:556px;top:128.9px">Wilcom</div>
<div class="t" style="left:383px;top:142.2px">3.</div>
<div class="t" style="left:402px;top:142.2px">3</div>
<div class="sw" style="left:418px;top:142px;background:#0c9444"></div>
<div class="t r" style="left:420px;width:31px;top:142.2px">827</div>
<div class="t r" style="left:455px;width:22px;top:142.2px">3</div>
<div class="t" style="left:482px;top:142.2px">Green</div>
<div class="t" style="left:556px;top:142.2px">Wilcom</div>
<div class="t" style="left:383px;top:155.4px">4.</div>
<div class="t" style="left:402px;top:155.4px">4</div>
<div class="sw" style="left:418px;top:155px;background:#fcf404"></div>
<div class="t r" style="left:420px;width:31px;top:155.4px">1184</div>
<div class="t r" style="left:455px;width:22px;top:155.4px">4</div>
<div class="t" style="left:482px;top:155.4px">Yellow</div>
<div class="t" style="left:556px;top:155.4px">Wilcom</div>
<div class="t" style="left:383px;top:168.7px">5.</div>
<div class="t" style="left:402px;top:168.7px">5</div>
<div class="sw" style="left:418px;top:168px;background:#dc1c1c"></div>
<div class="t r" style="left:420px;width:31px;top:168.7px">790</div>
<div class="t r" style="left:455px;width:22px;top:168.7px">5</div>
<div class="t" style="left:482px;top:168.7px">Red</div>
<div class="t" style="left:556px;top:168.7px">Wilcom</div>
<div class="t" style="left:383px;top:182.0px">6.</div>
<div class="t" style="left:402px;top:182.0px">6</div>
<div class="sw" style="left:418px;top:182px;background:#b4643c"></div>
<div class="t r" style="left:420px;width:31px;top:182.0px">3588</div>
<div class="t r" style="left:455px;width:22px;top:182.0px">6</div>
<div class="t" style="left:482px;top:182.0px">Brick Red</div>
<div class="t" style="left:556px;top:182.0px">Wilcom</div>
<div class="t" style="left:383px;top:195.3px">7.</div>
<div class="t" style="left:402px;top:195.3px">7</div>
<div class="sw" style="left:418px;top:195px;background:#e4107c"></div>
<div class="t r" style="left:420px;width:31px;top:195.3px">657</div>
<div class="t r" style="left:455px;width:22px;top:195.3px">7</div>
<div class="t" style="left:482px;top:195.3px">Magenta</div>
<div class="t" style="left:556px;top:195.3px">Wilcom</div>
<div class="t" style="left:383px;top:208.6px">8.</div>
<div class="t" style="left:402px;top:208.6px">8</div>
<div class="sw" style="left:418px;top:208px;background:#9c4c84"></div>
<div class="t r" style="left:420px;width:31px;top:208.6px">1157</div>
<div class="t r" style="left:455px;width:22px;top:208.6px">8</div>
<div class="t" style="left:482px;top:208.6px">Purple</div>
<div class="t" style="left:556px;top:208.6px">Wilcom</div>
<div class="t" style="left:383px;top:221.8px">9.</div>
<div class="t" style="left:402px;top:221.8px">9</div>
<div class="sw" style="left:418px;top:222px;background:#ec8424"></div>
<div class="t r" style="left:420px;width:31px;top:221.8px">3269</div>
<div class="t r" style="left:455px;width:22px;top:221.8px">9</div>
<div class="t" style="left:482px;top:221.8px">Orange</div>
<div class="t" style="left:556px;top:221.8px">Wilcom</div>
<div class="t" style="left:383px;top:235.1px">10.</div>
<div class="t" style="left:402px;top:235.1px">10</div>
<div class="sw" style="left:418px;top:235px;background:#f49ca4"></div>
<div class="t r" style="left:420px;width:31px;top:235.1px">474</div>
<div class="t r" style="left:455px;width:22px;top:235.1px">10</div>
<div class="t" style="left:482px;top:235.1px">Pink</div>
<div class="t" style="left:556px;top:235.1px">Wilcom</div>
<div class="t" style="left:383px;top:248.4px">11.</div>
<div class="t" style="left:402px;top:248.4px">11</div>
<div class="sw" style="left:418px;top:248px;background:#545454"></div>
<div class="t r" style="left:420px;width:31px;top:248.4px">44</div>
<div class="t r" style="left:455px;width:22px;top:248.4px">11</div>
<div class="t" style="left:482px;top:248.4px">Dark Brown</div>
<div class="t" style="left:556px;top:248.4px">Wilcom</div>
<div class="t" style="left:383px;top:261.7px">12.</div>
<div class="t" style="left:402px;top:261.7px">12</div>
<div class="sw" style="left:418px;top:262px;background:#b4acdc"></div>
<div class="t r" style="left:420px;width:31px;top:261.7px">2357</div>
<div class="t r" style="left:455px;width:22px;top:261.7px">12</div>
<div class="t" style="left:482px;top:261.7px">Powder Blue</div>
<div class="t" style="left:556px;top:261.7px">Wilcom</div>
<div class="t" style="left:383px;top:275.0px">13.</div>
<div class="t" style="left:402px;top:275.0px">13</div>
<div class="sw" style="left:418px;top:275px;background:#1c1c1c"></div>
<div class="t r" style="left:420px;width:31px;top:275.0px">2777</div>
<div class="t r" style="left:455px;width:22px;top:275.0px">13</div>
<div class="t" style="left:482px;top:275.0px">Black</div>
<div class="t" style="left:556px;top:275.0px">Wilcom</div>
<div class="t" style="left:383px;top:288.2px">14.</div>
<div class="t" style="left:402px;top:288.2px">14</div>
<div class="sw" style="left:418px;top:288px;background:#7c7c7c"></div>
<div class="t r" style="left:420px;width:31px;top:288.2px">363</div>
<div class="t r" style="left:455px;width:22px;top:288.2px">14</div>
<div class="t" style="left:482px;top:288.2px">Grey</div>
<div class="t" style="left:556px;top:288.2px">Wilcom</div>
<div class="t" style="left:383px;top:301.5px">15.</div>
<div class="t" style="left:402px;top:301.5px">15</div>
<div class="sw" style="left:418px;top:302px;background:#ffffff"></div>
<div class="t r" style="left:420px;width:31px;top:301.5px">2656</div>
<div class="t r" style="left:455px;width:22px;top:301.5px">15</div>
<div class="t" style="left:482px;top:301.5px">White</div>
<div class="t" style="left:556px;top:301.5px">Wilcom</div>
<div class="t" style="left:383px;top:314.8px">16.</div>
<div class="t" style="left:402px;top:314.8px">16</div>
<div class="sw" style="left:418px;top:315px;background:#8c8ccc"></div>
<div class="t r" style="left:420px;width:31px;top:314.8px">139</div>
<div class="t r" style="left:455px;width:22px;top:314.8px">16</div>
<div class="t" style="left:482px;top:314.8px">Pastel Blue</div>
<div class="t" style="left:556px;top:314.8px">Wilcom</div>
<div class="t" style="left:383px;top:328.1px">17.</div>
<div class="t" style="left:402px;top:328.1px">17</div>
<div class="sw" style="left:418px;top:328px;background:#5c7cc4"></div>
<div class="t r" style="left:420px;width:31px;top:328.1px">1051</div>
<div class="t r" style="left:455px;width:22px;top:328.1px">17</div>
<div class="t" style="left:482px;top:328.1px">Baby Blue</div>
<div class="t" style="left:556px;top:328.1px">Wilcom</div>
<div class="t" style="left:383px;top:341.4px">18.</div>
<div class="t" style="left:402px;top:341.4px">18</div>
<div class="sw" style="left:418px;top:342px;background:#445474"></div>
<div class="t r" style="left:420px;width:31px;top:341.4px">963</div>
<div class="t r" style="left:455px;width:22px;top:341.4px">18</div>
<div class="t" style="left:482px;top:341.4px">Navy Blue</div>
<div class="t" style="left:556px;top:341.4px">Wilcom</div>
<div class="t" style="left:383px;top:354.6px">19.</div>
<div class="t" style="left:402px;top:354.6px">19</div>
<div class="sw" style="left:418px;top:355px;background:#4c445c"></div>
<div class="t r" style="left:420px;width:31px;top:354.6px">807</div>
<div class="t r" style="left:455px;width:22px;top:354.6px">19</div>
<div class="t" style="left:482px;top:354.6px">Deep Navy Blue</div>
<div class="t" style="left:556px;top:354.6px">Wilcom</div>
<div class="t" style="left:197.5px;top:87.5px;font-family:'Liberation Serif',serif;font-weight:bold;font-size:8px;color:#0a9030">1</div>
<div class="t" style="left:9px;top:460.5px;font-family:'Liberation Serif',serif;font-weight:bold;font-size:8px;color:#0a9030">1</div>
<div class="t" style="left:196.5px;top:847px;color:#ff0000;font-size:9.5px">2</div>
<div class="t" style="left:369.5px;top:460px;color:#ff0000;font-size:9.5px">2</div>
</body></html>
